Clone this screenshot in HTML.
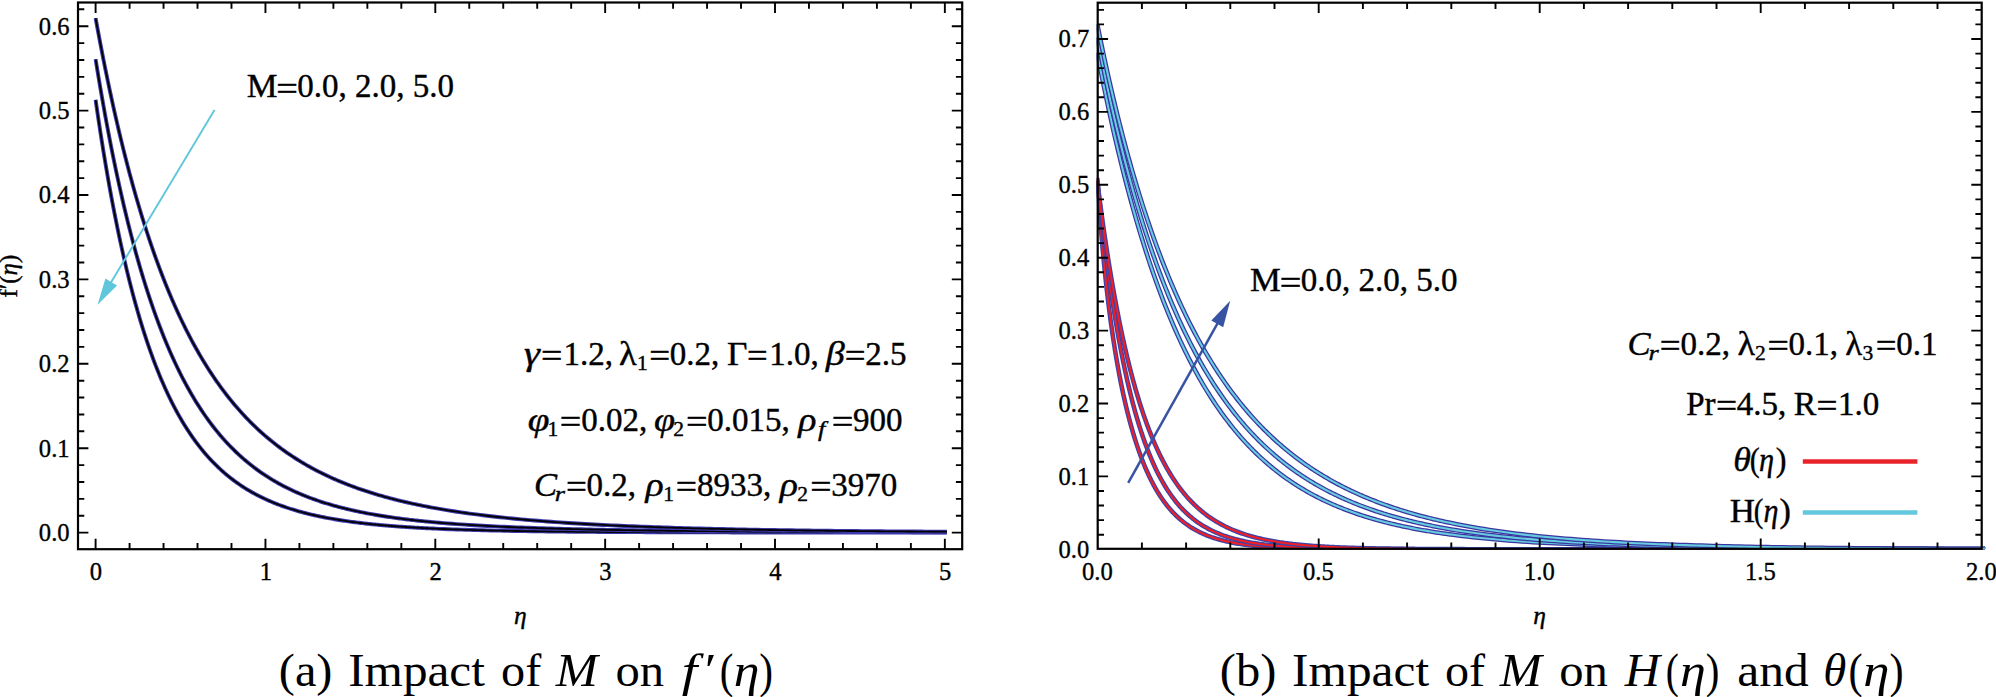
<!DOCTYPE html>
<html lang="en"><head><meta charset="utf-8"><title>Impact of M</title>
<style>
html,body{margin:0;padding:0;background:#fff;}
body{width:1996px;height:697px;overflow:hidden;position:relative;}
</style></head><body>
<svg width="1996" height="697" viewBox="0 0 1996 697" style="display:block;position:absolute;left:0;top:0">
<rect x="0" y="0" width="1996" height="697" fill="#ffffff"/>
<defs><clipPath id="cr"><rect x="1096.6" y="0" width="888.5" height="549.2"/></clipPath></defs>
<g fill="none" stroke-linecap="butt" stroke-linejoin="round">
<path d="M95.60 99.88 L97.15 110.61 L98.70 121.06 L100.25 131.24 L101.80 141.16 L103.36 150.83 L104.91 160.25 L106.46 169.42 L108.01 178.36 L109.56 187.07 L111.11 195.55 L112.66 203.82 L114.21 211.88 L115.76 219.73 L117.32 227.38 L118.87 234.83 L120.42 242.10 L121.97 249.18 L123.52 256.08 L125.07 262.80 L126.62 269.35 L128.17 275.73 L129.73 281.96 L131.28 288.02 L132.83 293.93 L134.38 299.69 L135.93 305.31 L137.48 310.78 L139.03 316.12 L140.58 321.32 L142.13 326.38 L143.69 331.32 L145.24 336.14 L146.79 340.84 L148.34 345.41 L149.89 349.87 L151.44 354.22 L152.99 358.46 L154.54 362.60 L156.09 366.63 L157.65 370.56 L159.20 374.39 L160.75 378.13 L162.30 381.77 L163.85 385.32 L165.40 388.79 L166.95 392.16 L168.50 395.46 L170.05 398.67 L171.61 401.80 L173.16 404.85 L174.71 407.83 L176.26 410.74 L177.81 413.57 L179.36 416.34 L180.91 419.03 L182.46 421.66 L184.02 424.22 L185.57 426.73 L187.12 429.17 L188.67 431.55 L190.22 433.87 L191.77 436.13 L193.32 438.34 L194.87 440.50 L196.42 442.60 L197.98 444.66 L199.53 446.66 L201.08 448.61 L202.63 450.52 L204.18 452.38 L205.73 454.19 L207.28 455.96 L208.83 457.69 L210.38 459.38 L211.94 461.03 L213.49 462.63 L215.04 464.20 L216.59 465.73 L218.14 467.22 L219.69 468.68 L221.24 470.10 L222.79 471.49 L224.34 472.85 L225.90 474.17 L227.45 475.47 L229.00 476.73 L230.55 477.96 L232.10 479.16 L233.65 480.33 L235.20 481.48 L236.75 482.60 L238.31 483.69 L239.86 484.76 L241.41 485.80 L242.96 486.82 L244.51 487.81 L246.06 488.78 L247.61 489.73 L249.16 490.66 L250.71 491.56 L252.27 492.44 L253.82 493.31 L255.37 494.15 L256.92 494.97 L258.47 495.78 L260.02 496.56 L261.57 497.33 L263.12 498.08 L264.67 498.81 L266.23 499.53 L267.78 500.23 L269.33 500.91 L270.88 501.58 L272.43 502.23 L273.98 502.87 L275.53 503.49 L277.08 504.10 L278.63 504.70 L280.19 505.28 L281.74 505.85 L283.29 506.40 L284.84 506.94 L286.39 507.48 L287.94 507.99 L289.49 508.50 L291.04 509.00 L292.59 509.48 L294.15 509.96 L295.70 510.42 L297.25 510.87 L298.80 511.32 L300.35 511.75 L301.90 512.17 L303.45 512.59 L305.00 512.99 L306.56 513.39 L308.11 513.78 L309.66 514.16 L311.21 514.53 L312.76 514.89 L314.31 515.25 L315.86 515.59 L317.41 515.93 L318.96 516.26 L320.52 516.59 L322.07 516.91 L323.62 517.22 L325.17 517.52 L326.72 517.82 L328.27 518.11 L329.82 518.40 L331.37 518.68 L332.92 518.95 L334.48 519.22 L336.03 519.48 L337.58 519.73 L339.13 519.99 L340.68 520.23 L342.23 520.47 L343.78 520.71 L345.33 520.94 L346.88 521.16 L348.44 521.38 L349.99 521.60 L351.54 521.81 L353.09 522.02 L354.64 522.22 L356.19 522.42 L357.74 522.61 L359.29 522.80 L360.85 522.99 L362.40 523.17 L363.95 523.35 L365.50 523.52 L367.05 523.69 L368.60 523.86 L370.15 524.03 L371.70 524.19 L373.25 524.35 L374.81 524.50 L376.36 524.65 L377.91 524.80 L379.46 524.95 L381.01 525.09 L382.56 525.23 L384.11 525.36 L385.66 525.50 L387.21 525.63 L388.77 525.76 L390.32 525.88 L391.87 526.01 L393.42 526.13 L394.97 526.25 L396.52 526.36 L398.07 526.48 L399.62 526.59 L401.17 526.70 L402.73 526.81 L404.28 526.91 L405.83 527.02 L407.38 527.12 L408.93 527.22 L410.48 527.31 L412.03 527.41 L413.58 527.50 L415.14 527.59 L416.69 527.68 L418.24 527.77 L419.79 527.86 L421.34 527.94 L422.89 528.03 L424.44 528.11 L425.99 528.19 L427.54 528.27 L429.10 528.34 L430.65 528.42 L432.20 528.49 L433.75 528.57 L435.30 528.64 L439.60 528.83 L443.90 529.01 L448.20 529.18 L452.50 529.34 L456.80 529.50 L461.09 529.64 L465.39 529.78 L469.69 529.91 L473.99 530.04 L478.29 530.16 L482.59 530.27 L486.89 530.38 L491.19 530.48 L495.49 530.58 L499.79 530.67 L504.08 530.76 L508.38 530.85 L512.68 530.93 L516.98 531.00 L521.28 531.07 L525.58 531.14 L529.88 531.21 L534.18 531.27 L538.48 531.33 L542.78 531.39 L547.08 531.44 L551.37 531.49 L555.67 531.54 L559.97 531.59 L564.27 531.64 L568.57 531.68 L572.87 531.72 L577.17 531.76 L581.47 531.80 L585.77 531.83 L590.07 531.86 L594.37 531.90 L598.66 531.93 L602.96 531.96 L607.26 531.98 L611.56 532.01 L615.86 532.04 L620.16 532.06 L624.46 532.09 L628.76 532.11 L633.06 532.13 L637.36 532.15 L641.65 532.17 L645.95 532.19 L650.25 532.21 L654.55 532.22 L658.85 532.24 L663.15 532.25 L667.45 532.27 L671.75 532.28 L676.05 532.30 L680.35 532.31 L684.65 532.32 L688.94 532.33 L693.24 532.35 L697.54 532.36 L701.84 532.37 L706.14 532.38 L710.44 532.39 L714.74 532.40 L719.04 532.40 L723.34 532.41 L727.64 532.42 L731.94 532.43 L736.23 532.44 L740.53 532.44 L744.83 532.45 L749.13 532.46 L753.43 532.46 L757.73 532.47 L762.03 532.47 L766.33 532.48 L770.63 532.48 L774.93 532.49 L779.22 532.49 L783.52 532.50 L787.82 532.50 L792.12 532.51 L796.42 532.51 L800.72 532.51 L805.02 532.52 L809.32 532.52 L813.62 532.52 L817.92 532.53 L822.22 532.53 L826.51 532.53 L830.81 532.54 L835.11 532.54 L839.41 532.54 L843.71 532.54 L848.01 532.55 L852.31 532.55 L856.61 532.55 L860.91 532.55 L865.21 532.55 L869.51 532.56 L873.80 532.56 L878.10 532.56 L882.40 532.56 L886.70 532.56 L891.00 532.56 L895.30 532.57 L899.60 532.57 L903.90 532.57 L908.20 532.57 L912.50 532.57 L916.79 532.57 L921.09 532.57 L925.39 532.58 L929.69 532.58 L933.99 532.58 L938.29 532.58 L942.59 532.58 L946.89 532.58" stroke="#3c3aac" stroke-width="3.9"/>
<path d="M95.60 99.88 L97.15 110.61 L98.70 121.06 L100.25 131.24 L101.80 141.16 L103.36 150.83 L104.91 160.25 L106.46 169.42 L108.01 178.36 L109.56 187.07 L111.11 195.55 L112.66 203.82 L114.21 211.88 L115.76 219.73 L117.32 227.38 L118.87 234.83 L120.42 242.10 L121.97 249.18 L123.52 256.08 L125.07 262.80 L126.62 269.35 L128.17 275.73 L129.73 281.96 L131.28 288.02 L132.83 293.93 L134.38 299.69 L135.93 305.31 L137.48 310.78 L139.03 316.12 L140.58 321.32 L142.13 326.38 L143.69 331.32 L145.24 336.14 L146.79 340.84 L148.34 345.41 L149.89 349.87 L151.44 354.22 L152.99 358.46 L154.54 362.60 L156.09 366.63 L157.65 370.56 L159.20 374.39 L160.75 378.13 L162.30 381.77 L163.85 385.32 L165.40 388.79 L166.95 392.16 L168.50 395.46 L170.05 398.67 L171.61 401.80 L173.16 404.85 L174.71 407.83 L176.26 410.74 L177.81 413.57 L179.36 416.34 L180.91 419.03 L182.46 421.66 L184.02 424.22 L185.57 426.73 L187.12 429.17 L188.67 431.55 L190.22 433.87 L191.77 436.13 L193.32 438.34 L194.87 440.50 L196.42 442.60 L197.98 444.66 L199.53 446.66 L201.08 448.61 L202.63 450.52 L204.18 452.38 L205.73 454.19 L207.28 455.96 L208.83 457.69 L210.38 459.38 L211.94 461.03 L213.49 462.63 L215.04 464.20 L216.59 465.73 L218.14 467.22 L219.69 468.68 L221.24 470.10 L222.79 471.49 L224.34 472.85 L225.90 474.17 L227.45 475.47 L229.00 476.73 L230.55 477.96 L232.10 479.16 L233.65 480.33 L235.20 481.48 L236.75 482.60 L238.31 483.69 L239.86 484.76 L241.41 485.80 L242.96 486.82 L244.51 487.81 L246.06 488.78 L247.61 489.73 L249.16 490.66 L250.71 491.56 L252.27 492.44 L253.82 493.31 L255.37 494.15 L256.92 494.97 L258.47 495.78 L260.02 496.56 L261.57 497.33 L263.12 498.08 L264.67 498.81 L266.23 499.53 L267.78 500.23 L269.33 500.91 L270.88 501.58 L272.43 502.23 L273.98 502.87 L275.53 503.49 L277.08 504.10 L278.63 504.70 L280.19 505.28 L281.74 505.85 L283.29 506.40 L284.84 506.94 L286.39 507.48 L287.94 507.99 L289.49 508.50 L291.04 509.00 L292.59 509.48 L294.15 509.96 L295.70 510.42 L297.25 510.87 L298.80 511.32 L300.35 511.75 L301.90 512.17 L303.45 512.59 L305.00 512.99 L306.56 513.39 L308.11 513.78 L309.66 514.16 L311.21 514.53 L312.76 514.89 L314.31 515.25 L315.86 515.59 L317.41 515.93 L318.96 516.26 L320.52 516.59 L322.07 516.91 L323.62 517.22 L325.17 517.52 L326.72 517.82 L328.27 518.11 L329.82 518.40 L331.37 518.68 L332.92 518.95 L334.48 519.22 L336.03 519.48 L337.58 519.73 L339.13 519.99 L340.68 520.23 L342.23 520.47 L343.78 520.71 L345.33 520.94 L346.88 521.16 L348.44 521.38 L349.99 521.60 L351.54 521.81 L353.09 522.02 L354.64 522.22 L356.19 522.42 L357.74 522.61 L359.29 522.80 L360.85 522.99 L362.40 523.17 L363.95 523.35 L365.50 523.52 L367.05 523.69 L368.60 523.86 L370.15 524.03 L371.70 524.19 L373.25 524.35 L374.81 524.50 L376.36 524.65 L377.91 524.80 L379.46 524.95 L381.01 525.09 L382.56 525.23 L384.11 525.36 L385.66 525.50 L387.21 525.63 L388.77 525.76 L390.32 525.88 L391.87 526.01 L393.42 526.13 L394.97 526.25 L396.52 526.36 L398.07 526.48 L399.62 526.59 L401.17 526.70 L402.73 526.81 L404.28 526.91 L405.83 527.02 L407.38 527.12 L408.93 527.22 L410.48 527.31 L412.03 527.41 L413.58 527.50 L415.14 527.59 L416.69 527.68 L418.24 527.77 L419.79 527.86 L421.34 527.94 L422.89 528.03 L424.44 528.11 L425.99 528.19 L427.54 528.27 L429.10 528.34 L430.65 528.42 L432.20 528.49 L433.75 528.57 L435.30 528.64 L439.60 528.83 L443.90 529.01 L448.20 529.18 L452.50 529.34 L456.80 529.50 L461.09 529.64 L465.39 529.78 L469.69 529.91 L473.99 530.04 L478.29 530.16 L482.59 530.27 L486.89 530.38 L491.19 530.48 L495.49 530.58 L499.79 530.67 L504.08 530.76 L508.38 530.85 L512.68 530.93 L516.98 531.00 L521.28 531.07 L525.58 531.14 L529.88 531.21 L534.18 531.27 L538.48 531.33 L542.78 531.39 L547.08 531.44 L551.37 531.49 L555.67 531.54 L559.97 531.59 L564.27 531.64 L568.57 531.68 L572.87 531.72 L577.17 531.76 L581.47 531.80 L585.77 531.83 L590.07 531.86 L594.37 531.90 L598.66 531.93 L602.96 531.96 L607.26 531.98 L611.56 532.01 L615.86 532.04 L620.16 532.06 L624.46 532.09 L628.76 532.11 L633.06 532.13 L637.36 532.15 L641.65 532.17 L645.95 532.19 L650.25 532.21 L654.55 532.22 L658.85 532.24 L663.15 532.25 L667.45 532.27 L671.75 532.28 L676.05 532.30 L680.35 532.31 L684.65 532.32 L688.94 532.33 L693.24 532.35 L697.54 532.36 L701.84 532.37 L706.14 532.38 L710.44 532.39 L714.74 532.40 L719.04 532.40 L723.34 532.41 L727.64 532.42 L731.94 532.43 L736.23 532.44 L740.53 532.44 L744.83 532.45 L749.13 532.46 L753.43 532.46 L757.73 532.47 L762.03 532.47 L766.33 532.48 L770.63 532.48 L774.93 532.49 L779.22 532.49 L783.52 532.50 L787.82 532.50 L792.12 532.51 L796.42 532.51 L800.72 532.51 L805.02 532.52 L809.32 532.52 L813.62 532.52 L817.92 532.53 L822.22 532.53 L826.51 532.53 L830.81 532.54 L835.11 532.54 L839.41 532.54 L843.71 532.54 L848.01 532.55 L852.31 532.55 L856.61 532.55 L860.91 532.55 L865.21 532.55 L869.51 532.56 L873.80 532.56 L878.10 532.56 L882.40 532.56 L886.70 532.56 L891.00 532.56 L895.30 532.57 L899.60 532.57 L903.90 532.57 L908.20 532.57 L912.50 532.57 L916.79 532.57 L921.09 532.57 L925.39 532.58 L929.69 532.58 L933.99 532.58 L938.29 532.58 L942.59 532.58 L946.89 532.58" stroke="#000000" stroke-width="1.8"/>
<path d="M95.60 59.28 L97.15 68.86 L98.70 78.23 L100.25 87.41 L101.80 96.40 L103.36 105.20 L104.91 113.81 L106.46 122.25 L108.01 130.51 L109.56 138.59 L111.11 146.51 L112.66 154.26 L114.21 161.85 L115.76 169.29 L117.32 176.56 L118.87 183.69 L120.42 190.67 L121.97 197.50 L123.52 204.19 L125.07 210.74 L126.62 217.16 L128.17 223.44 L129.73 229.59 L131.28 235.62 L132.83 241.51 L134.38 247.29 L135.93 252.95 L137.48 258.49 L139.03 263.91 L140.58 269.22 L142.13 274.43 L143.69 279.52 L145.24 284.51 L146.79 289.40 L148.34 294.18 L149.89 298.87 L151.44 303.46 L152.99 307.95 L154.54 312.35 L156.09 316.67 L157.65 320.89 L159.20 325.02 L160.75 329.07 L162.30 333.04 L163.85 336.93 L165.40 340.73 L166.95 344.46 L168.50 348.11 L170.05 351.69 L171.61 355.19 L173.16 358.62 L174.71 361.98 L176.26 365.27 L177.81 368.50 L179.36 371.66 L180.91 374.75 L182.46 377.78 L184.02 380.75 L185.57 383.66 L187.12 386.51 L188.67 389.30 L190.22 392.03 L191.77 394.71 L193.32 397.34 L194.87 399.91 L196.42 402.43 L197.98 404.89 L199.53 407.31 L201.08 409.68 L202.63 412.00 L204.18 414.27 L205.73 416.50 L207.28 418.68 L208.83 420.82 L210.38 422.92 L211.94 424.97 L213.49 426.98 L215.04 428.95 L216.59 430.89 L218.14 432.78 L219.69 434.63 L221.24 436.45 L222.79 438.23 L224.34 439.98 L225.90 441.69 L227.45 443.36 L229.00 445.00 L230.55 446.61 L232.10 448.19 L233.65 449.74 L235.20 451.25 L236.75 452.74 L238.31 454.19 L239.86 455.62 L241.41 457.02 L242.96 458.39 L244.51 459.73 L246.06 461.05 L247.61 462.34 L249.16 463.60 L250.71 464.84 L252.27 466.06 L253.82 467.25 L255.37 468.42 L256.92 469.56 L258.47 470.69 L260.02 471.79 L261.57 472.87 L263.12 473.92 L264.67 474.96 L266.23 475.98 L267.78 476.98 L269.33 477.95 L270.88 478.91 L272.43 479.85 L273.98 480.77 L275.53 481.68 L277.08 482.56 L278.63 483.43 L280.19 484.28 L281.74 485.12 L283.29 485.94 L284.84 486.74 L286.39 487.53 L287.94 488.30 L289.49 489.06 L291.04 489.81 L292.59 490.54 L294.15 491.25 L295.70 491.95 L297.25 492.64 L298.80 493.32 L300.35 493.98 L301.90 494.63 L303.45 495.27 L305.00 495.89 L306.56 496.51 L308.11 497.11 L309.66 497.70 L311.21 498.28 L312.76 498.84 L314.31 499.40 L315.86 499.95 L317.41 500.49 L318.96 501.01 L320.52 501.53 L322.07 502.04 L323.62 502.54 L325.17 503.02 L326.72 503.50 L328.27 503.97 L329.82 504.44 L331.37 504.89 L332.92 505.33 L334.48 505.77 L336.03 506.20 L337.58 506.62 L339.13 507.03 L340.68 507.44 L342.23 507.84 L343.78 508.23 L345.33 508.61 L346.88 508.99 L348.44 509.36 L349.99 509.72 L351.54 510.08 L353.09 510.43 L354.64 510.77 L356.19 511.11 L357.74 511.44 L359.29 511.77 L360.85 512.09 L362.40 512.40 L363.95 512.71 L365.50 513.01 L367.05 513.31 L368.60 513.60 L370.15 513.89 L371.70 514.17 L373.25 514.45 L374.81 514.72 L376.36 514.98 L377.91 515.25 L379.46 515.51 L381.01 515.76 L382.56 516.01 L384.11 516.25 L385.66 516.49 L387.21 516.73 L388.77 516.96 L390.32 517.19 L391.87 517.41 L393.42 517.63 L394.97 517.85 L396.52 518.06 L398.07 518.27 L399.62 518.48 L401.17 518.68 L402.73 518.88 L404.28 519.07 L405.83 519.27 L407.38 519.45 L408.93 519.64 L410.48 519.82 L412.03 520.00 L413.58 520.18 L415.14 520.35 L416.69 520.52 L418.24 520.69 L419.79 520.85 L421.34 521.02 L422.89 521.18 L424.44 521.33 L425.99 521.49 L427.54 521.64 L429.10 521.79 L430.65 521.93 L432.20 522.08 L433.75 522.22 L435.30 522.36 L439.60 522.74 L443.90 523.10 L448.20 523.44 L452.50 523.77 L456.80 524.08 L461.09 524.38 L465.39 524.67 L469.69 524.95 L473.99 525.21 L478.29 525.47 L482.59 525.71 L486.89 525.94 L491.19 526.17 L495.49 526.38 L499.79 526.59 L504.08 526.79 L508.38 526.98 L512.68 527.16 L516.98 527.33 L521.28 527.50 L525.58 527.66 L529.88 527.82 L534.18 527.97 L538.48 528.12 L542.78 528.26 L547.08 528.39 L551.37 528.52 L555.67 528.64 L559.97 528.76 L564.27 528.88 L568.57 528.99 L572.87 529.10 L577.17 529.20 L581.47 529.30 L585.77 529.40 L590.07 529.49 L594.37 529.58 L598.66 529.67 L602.96 529.76 L607.26 529.84 L611.56 529.92 L615.86 529.99 L620.16 530.07 L624.46 530.14 L628.76 530.21 L633.06 530.27 L637.36 530.34 L641.65 530.40 L645.95 530.46 L650.25 530.52 L654.55 530.58 L658.85 530.63 L663.15 530.69 L667.45 530.74 L671.75 530.79 L676.05 530.84 L680.35 530.89 L684.65 530.93 L688.94 530.98 L693.24 531.02 L697.54 531.06 L701.84 531.10 L706.14 531.14 L710.44 531.18 L714.74 531.22 L719.04 531.26 L723.34 531.29 L727.64 531.33 L731.94 531.36 L736.23 531.39 L740.53 531.42 L744.83 531.45 L749.13 531.48 L753.43 531.51 L757.73 531.54 L762.03 531.57 L766.33 531.59 L770.63 531.62 L774.93 531.64 L779.22 531.67 L783.52 531.69 L787.82 531.72 L792.12 531.74 L796.42 531.76 L800.72 531.78 L805.02 531.80 L809.32 531.82 L813.62 531.84 L817.92 531.86 L822.22 531.88 L826.51 531.90 L830.81 531.92 L835.11 531.93 L839.41 531.95 L843.71 531.97 L848.01 531.98 L852.31 532.00 L856.61 532.01 L860.91 532.03 L865.21 532.04 L869.51 532.06 L873.80 532.07 L878.10 532.08 L882.40 532.10 L886.70 532.11 L891.00 532.12 L895.30 532.13 L899.60 532.14 L903.90 532.16 L908.20 532.17 L912.50 532.18 L916.79 532.19 L921.09 532.20 L925.39 532.21 L929.69 532.22 L933.99 532.23 L938.29 532.24 L942.59 532.25 L946.89 532.25" stroke="#3c3aac" stroke-width="3.9"/>
<path d="M95.60 59.28 L97.15 68.86 L98.70 78.23 L100.25 87.41 L101.80 96.40 L103.36 105.20 L104.91 113.81 L106.46 122.25 L108.01 130.51 L109.56 138.59 L111.11 146.51 L112.66 154.26 L114.21 161.85 L115.76 169.29 L117.32 176.56 L118.87 183.69 L120.42 190.67 L121.97 197.50 L123.52 204.19 L125.07 210.74 L126.62 217.16 L128.17 223.44 L129.73 229.59 L131.28 235.62 L132.83 241.51 L134.38 247.29 L135.93 252.95 L137.48 258.49 L139.03 263.91 L140.58 269.22 L142.13 274.43 L143.69 279.52 L145.24 284.51 L146.79 289.40 L148.34 294.18 L149.89 298.87 L151.44 303.46 L152.99 307.95 L154.54 312.35 L156.09 316.67 L157.65 320.89 L159.20 325.02 L160.75 329.07 L162.30 333.04 L163.85 336.93 L165.40 340.73 L166.95 344.46 L168.50 348.11 L170.05 351.69 L171.61 355.19 L173.16 358.62 L174.71 361.98 L176.26 365.27 L177.81 368.50 L179.36 371.66 L180.91 374.75 L182.46 377.78 L184.02 380.75 L185.57 383.66 L187.12 386.51 L188.67 389.30 L190.22 392.03 L191.77 394.71 L193.32 397.34 L194.87 399.91 L196.42 402.43 L197.98 404.89 L199.53 407.31 L201.08 409.68 L202.63 412.00 L204.18 414.27 L205.73 416.50 L207.28 418.68 L208.83 420.82 L210.38 422.92 L211.94 424.97 L213.49 426.98 L215.04 428.95 L216.59 430.89 L218.14 432.78 L219.69 434.63 L221.24 436.45 L222.79 438.23 L224.34 439.98 L225.90 441.69 L227.45 443.36 L229.00 445.00 L230.55 446.61 L232.10 448.19 L233.65 449.74 L235.20 451.25 L236.75 452.74 L238.31 454.19 L239.86 455.62 L241.41 457.02 L242.96 458.39 L244.51 459.73 L246.06 461.05 L247.61 462.34 L249.16 463.60 L250.71 464.84 L252.27 466.06 L253.82 467.25 L255.37 468.42 L256.92 469.56 L258.47 470.69 L260.02 471.79 L261.57 472.87 L263.12 473.92 L264.67 474.96 L266.23 475.98 L267.78 476.98 L269.33 477.95 L270.88 478.91 L272.43 479.85 L273.98 480.77 L275.53 481.68 L277.08 482.56 L278.63 483.43 L280.19 484.28 L281.74 485.12 L283.29 485.94 L284.84 486.74 L286.39 487.53 L287.94 488.30 L289.49 489.06 L291.04 489.81 L292.59 490.54 L294.15 491.25 L295.70 491.95 L297.25 492.64 L298.80 493.32 L300.35 493.98 L301.90 494.63 L303.45 495.27 L305.00 495.89 L306.56 496.51 L308.11 497.11 L309.66 497.70 L311.21 498.28 L312.76 498.84 L314.31 499.40 L315.86 499.95 L317.41 500.49 L318.96 501.01 L320.52 501.53 L322.07 502.04 L323.62 502.54 L325.17 503.02 L326.72 503.50 L328.27 503.97 L329.82 504.44 L331.37 504.89 L332.92 505.33 L334.48 505.77 L336.03 506.20 L337.58 506.62 L339.13 507.03 L340.68 507.44 L342.23 507.84 L343.78 508.23 L345.33 508.61 L346.88 508.99 L348.44 509.36 L349.99 509.72 L351.54 510.08 L353.09 510.43 L354.64 510.77 L356.19 511.11 L357.74 511.44 L359.29 511.77 L360.85 512.09 L362.40 512.40 L363.95 512.71 L365.50 513.01 L367.05 513.31 L368.60 513.60 L370.15 513.89 L371.70 514.17 L373.25 514.45 L374.81 514.72 L376.36 514.98 L377.91 515.25 L379.46 515.51 L381.01 515.76 L382.56 516.01 L384.11 516.25 L385.66 516.49 L387.21 516.73 L388.77 516.96 L390.32 517.19 L391.87 517.41 L393.42 517.63 L394.97 517.85 L396.52 518.06 L398.07 518.27 L399.62 518.48 L401.17 518.68 L402.73 518.88 L404.28 519.07 L405.83 519.27 L407.38 519.45 L408.93 519.64 L410.48 519.82 L412.03 520.00 L413.58 520.18 L415.14 520.35 L416.69 520.52 L418.24 520.69 L419.79 520.85 L421.34 521.02 L422.89 521.18 L424.44 521.33 L425.99 521.49 L427.54 521.64 L429.10 521.79 L430.65 521.93 L432.20 522.08 L433.75 522.22 L435.30 522.36 L439.60 522.74 L443.90 523.10 L448.20 523.44 L452.50 523.77 L456.80 524.08 L461.09 524.38 L465.39 524.67 L469.69 524.95 L473.99 525.21 L478.29 525.47 L482.59 525.71 L486.89 525.94 L491.19 526.17 L495.49 526.38 L499.79 526.59 L504.08 526.79 L508.38 526.98 L512.68 527.16 L516.98 527.33 L521.28 527.50 L525.58 527.66 L529.88 527.82 L534.18 527.97 L538.48 528.12 L542.78 528.26 L547.08 528.39 L551.37 528.52 L555.67 528.64 L559.97 528.76 L564.27 528.88 L568.57 528.99 L572.87 529.10 L577.17 529.20 L581.47 529.30 L585.77 529.40 L590.07 529.49 L594.37 529.58 L598.66 529.67 L602.96 529.76 L607.26 529.84 L611.56 529.92 L615.86 529.99 L620.16 530.07 L624.46 530.14 L628.76 530.21 L633.06 530.27 L637.36 530.34 L641.65 530.40 L645.95 530.46 L650.25 530.52 L654.55 530.58 L658.85 530.63 L663.15 530.69 L667.45 530.74 L671.75 530.79 L676.05 530.84 L680.35 530.89 L684.65 530.93 L688.94 530.98 L693.24 531.02 L697.54 531.06 L701.84 531.10 L706.14 531.14 L710.44 531.18 L714.74 531.22 L719.04 531.26 L723.34 531.29 L727.64 531.33 L731.94 531.36 L736.23 531.39 L740.53 531.42 L744.83 531.45 L749.13 531.48 L753.43 531.51 L757.73 531.54 L762.03 531.57 L766.33 531.59 L770.63 531.62 L774.93 531.64 L779.22 531.67 L783.52 531.69 L787.82 531.72 L792.12 531.74 L796.42 531.76 L800.72 531.78 L805.02 531.80 L809.32 531.82 L813.62 531.84 L817.92 531.86 L822.22 531.88 L826.51 531.90 L830.81 531.92 L835.11 531.93 L839.41 531.95 L843.71 531.97 L848.01 531.98 L852.31 532.00 L856.61 532.01 L860.91 532.03 L865.21 532.04 L869.51 532.06 L873.80 532.07 L878.10 532.08 L882.40 532.10 L886.70 532.11 L891.00 532.12 L895.30 532.13 L899.60 532.14 L903.90 532.16 L908.20 532.17 L912.50 532.18 L916.79 532.19 L921.09 532.20 L925.39 532.21 L929.69 532.22 L933.99 532.23 L938.29 532.24 L942.59 532.25 L946.89 532.25" stroke="#000000" stroke-width="1.8"/>
<path d="M95.60 18.10 L97.15 26.59 L98.70 34.93 L100.25 43.12 L101.80 51.16 L103.36 59.06 L104.91 66.82 L106.46 74.44 L108.01 81.93 L109.56 89.29 L111.11 96.51 L112.66 103.61 L114.21 110.58 L115.76 117.43 L117.32 124.15 L118.87 130.76 L120.42 137.25 L121.97 143.63 L123.52 149.90 L125.07 156.05 L126.62 162.10 L128.17 168.04 L129.73 173.88 L131.28 179.61 L132.83 185.25 L134.38 190.79 L135.93 196.23 L137.48 201.57 L139.03 206.82 L140.58 211.99 L142.13 217.06 L143.69 222.04 L145.24 226.94 L146.79 231.75 L148.34 236.48 L149.89 241.13 L151.44 245.69 L152.99 250.18 L154.54 254.59 L156.09 258.93 L157.65 263.19 L159.20 267.38 L160.75 271.49 L162.30 275.54 L163.85 279.51 L165.40 283.42 L166.95 287.26 L168.50 291.04 L170.05 294.75 L171.61 298.40 L173.16 301.99 L174.71 305.51 L176.26 308.98 L177.81 312.38 L179.36 315.73 L180.91 319.03 L182.46 322.27 L184.02 325.45 L185.57 328.58 L187.12 331.65 L188.67 334.68 L190.22 337.65 L191.77 340.58 L193.32 343.45 L194.87 346.28 L196.42 349.06 L197.98 351.80 L199.53 354.49 L201.08 357.13 L202.63 359.73 L204.18 362.29 L205.73 364.80 L207.28 367.28 L208.83 369.71 L210.38 372.10 L211.94 374.45 L213.49 376.77 L215.04 379.05 L216.59 381.29 L218.14 383.49 L219.69 385.65 L221.24 387.79 L222.79 389.88 L224.34 391.94 L225.90 393.97 L227.45 395.97 L229.00 397.93 L230.55 399.86 L232.10 401.77 L233.65 403.64 L235.20 405.47 L236.75 407.29 L238.31 409.07 L239.86 410.82 L241.41 412.54 L242.96 414.24 L244.51 415.91 L246.06 417.55 L247.61 419.17 L249.16 420.76 L250.71 422.33 L252.27 423.87 L253.82 425.39 L255.37 426.88 L256.92 428.35 L258.47 429.80 L260.02 431.22 L261.57 432.62 L263.12 434.00 L264.67 435.36 L266.23 436.69 L267.78 438.01 L269.33 439.31 L270.88 440.58 L272.43 441.84 L273.98 443.07 L275.53 444.29 L277.08 445.49 L278.63 446.67 L280.19 447.83 L281.74 448.97 L283.29 450.10 L284.84 451.21 L286.39 452.30 L287.94 453.37 L289.49 454.43 L291.04 455.47 L292.59 456.50 L294.15 457.51 L295.70 458.51 L297.25 459.49 L298.80 460.45 L300.35 461.41 L301.90 462.34 L303.45 463.27 L305.00 464.18 L306.56 465.07 L308.11 465.95 L309.66 466.82 L311.21 467.68 L312.76 468.52 L314.31 469.36 L315.86 470.17 L317.41 470.98 L318.96 471.78 L320.52 472.56 L322.07 473.33 L323.62 474.09 L325.17 474.84 L326.72 475.58 L328.27 476.31 L329.82 477.02 L331.37 477.73 L332.92 478.43 L334.48 479.11 L336.03 479.79 L337.58 480.45 L339.13 481.11 L340.68 481.76 L342.23 482.40 L343.78 483.03 L345.33 483.65 L346.88 484.26 L348.44 484.86 L349.99 485.45 L351.54 486.04 L353.09 486.62 L354.64 487.19 L356.19 487.75 L357.74 488.30 L359.29 488.85 L360.85 489.38 L362.40 489.91 L363.95 490.44 L365.50 490.95 L367.05 491.46 L368.60 491.96 L370.15 492.46 L371.70 492.94 L373.25 493.42 L374.81 493.90 L376.36 494.37 L377.91 494.83 L379.46 495.28 L381.01 495.73 L382.56 496.17 L384.11 496.61 L385.66 497.04 L387.21 497.46 L388.77 497.88 L390.32 498.30 L391.87 498.70 L393.42 499.11 L394.97 499.50 L396.52 499.89 L398.07 500.28 L399.62 500.66 L401.17 501.04 L402.73 501.41 L404.28 501.77 L405.83 502.13 L407.38 502.49 L408.93 502.84 L410.48 503.19 L412.03 503.53 L413.58 503.87 L415.14 504.20 L416.69 504.53 L418.24 504.86 L419.79 505.18 L421.34 505.49 L422.89 505.81 L424.44 506.11 L425.99 506.42 L427.54 506.72 L429.10 507.01 L430.65 507.31 L432.20 507.60 L433.75 507.88 L435.30 508.16 L439.60 508.92 L443.90 509.66 L448.20 510.37 L452.50 511.05 L456.80 511.71 L461.09 512.35 L465.39 512.97 L469.69 513.56 L473.99 514.14 L478.29 514.69 L482.59 515.23 L486.89 515.75 L491.19 516.25 L495.49 516.74 L499.79 517.21 L504.08 517.67 L508.38 518.11 L512.68 518.53 L516.98 518.94 L521.28 519.34 L525.58 519.73 L529.88 520.10 L534.18 520.46 L538.48 520.81 L542.78 521.15 L547.08 521.48 L551.37 521.80 L555.67 522.11 L559.97 522.41 L564.27 522.70 L568.57 522.98 L572.87 523.25 L577.17 523.52 L581.47 523.77 L585.77 524.02 L590.07 524.26 L594.37 524.49 L598.66 524.72 L602.96 524.94 L607.26 525.15 L611.56 525.36 L615.86 525.56 L620.16 525.76 L624.46 525.95 L628.76 526.13 L633.06 526.31 L637.36 526.48 L641.65 526.65 L645.95 526.81 L650.25 526.97 L654.55 527.13 L658.85 527.27 L663.15 527.42 L667.45 527.56 L671.75 527.70 L676.05 527.83 L680.35 527.96 L684.65 528.09 L688.94 528.21 L693.24 528.33 L697.54 528.44 L701.84 528.55 L706.14 528.66 L710.44 528.77 L714.74 528.87 L719.04 528.97 L723.34 529.07 L727.64 529.16 L731.94 529.26 L736.23 529.35 L740.53 529.43 L744.83 529.52 L749.13 529.60 L753.43 529.68 L757.73 529.76 L762.03 529.83 L766.33 529.91 L770.63 529.98 L774.93 530.05 L779.22 530.12 L783.52 530.18 L787.82 530.25 L792.12 530.31 L796.42 530.37 L800.72 530.43 L805.02 530.48 L809.32 530.54 L813.62 530.60 L817.92 530.65 L822.22 530.70 L826.51 530.75 L830.81 530.80 L835.11 530.85 L839.41 530.89 L843.71 530.94 L848.01 530.98 L852.31 531.02 L856.61 531.06 L860.91 531.10 L865.21 531.14 L869.51 531.18 L873.80 531.22 L878.10 531.26 L882.40 531.29 L886.70 531.33 L891.00 531.36 L895.30 531.39 L899.60 531.42 L903.90 531.45 L908.20 531.48 L912.50 531.51 L916.79 531.54 L921.09 531.57 L925.39 531.60 L929.69 531.62 L933.99 531.65 L938.29 531.67 L942.59 531.70 L946.89 531.72" stroke="#3c3aac" stroke-width="3.9"/>
<path d="M95.60 18.10 L97.15 26.59 L98.70 34.93 L100.25 43.12 L101.80 51.16 L103.36 59.06 L104.91 66.82 L106.46 74.44 L108.01 81.93 L109.56 89.29 L111.11 96.51 L112.66 103.61 L114.21 110.58 L115.76 117.43 L117.32 124.15 L118.87 130.76 L120.42 137.25 L121.97 143.63 L123.52 149.90 L125.07 156.05 L126.62 162.10 L128.17 168.04 L129.73 173.88 L131.28 179.61 L132.83 185.25 L134.38 190.79 L135.93 196.23 L137.48 201.57 L139.03 206.82 L140.58 211.99 L142.13 217.06 L143.69 222.04 L145.24 226.94 L146.79 231.75 L148.34 236.48 L149.89 241.13 L151.44 245.69 L152.99 250.18 L154.54 254.59 L156.09 258.93 L157.65 263.19 L159.20 267.38 L160.75 271.49 L162.30 275.54 L163.85 279.51 L165.40 283.42 L166.95 287.26 L168.50 291.04 L170.05 294.75 L171.61 298.40 L173.16 301.99 L174.71 305.51 L176.26 308.98 L177.81 312.38 L179.36 315.73 L180.91 319.03 L182.46 322.27 L184.02 325.45 L185.57 328.58 L187.12 331.65 L188.67 334.68 L190.22 337.65 L191.77 340.58 L193.32 343.45 L194.87 346.28 L196.42 349.06 L197.98 351.80 L199.53 354.49 L201.08 357.13 L202.63 359.73 L204.18 362.29 L205.73 364.80 L207.28 367.28 L208.83 369.71 L210.38 372.10 L211.94 374.45 L213.49 376.77 L215.04 379.05 L216.59 381.29 L218.14 383.49 L219.69 385.65 L221.24 387.79 L222.79 389.88 L224.34 391.94 L225.90 393.97 L227.45 395.97 L229.00 397.93 L230.55 399.86 L232.10 401.77 L233.65 403.64 L235.20 405.47 L236.75 407.29 L238.31 409.07 L239.86 410.82 L241.41 412.54 L242.96 414.24 L244.51 415.91 L246.06 417.55 L247.61 419.17 L249.16 420.76 L250.71 422.33 L252.27 423.87 L253.82 425.39 L255.37 426.88 L256.92 428.35 L258.47 429.80 L260.02 431.22 L261.57 432.62 L263.12 434.00 L264.67 435.36 L266.23 436.69 L267.78 438.01 L269.33 439.31 L270.88 440.58 L272.43 441.84 L273.98 443.07 L275.53 444.29 L277.08 445.49 L278.63 446.67 L280.19 447.83 L281.74 448.97 L283.29 450.10 L284.84 451.21 L286.39 452.30 L287.94 453.37 L289.49 454.43 L291.04 455.47 L292.59 456.50 L294.15 457.51 L295.70 458.51 L297.25 459.49 L298.80 460.45 L300.35 461.41 L301.90 462.34 L303.45 463.27 L305.00 464.18 L306.56 465.07 L308.11 465.95 L309.66 466.82 L311.21 467.68 L312.76 468.52 L314.31 469.36 L315.86 470.17 L317.41 470.98 L318.96 471.78 L320.52 472.56 L322.07 473.33 L323.62 474.09 L325.17 474.84 L326.72 475.58 L328.27 476.31 L329.82 477.02 L331.37 477.73 L332.92 478.43 L334.48 479.11 L336.03 479.79 L337.58 480.45 L339.13 481.11 L340.68 481.76 L342.23 482.40 L343.78 483.03 L345.33 483.65 L346.88 484.26 L348.44 484.86 L349.99 485.45 L351.54 486.04 L353.09 486.62 L354.64 487.19 L356.19 487.75 L357.74 488.30 L359.29 488.85 L360.85 489.38 L362.40 489.91 L363.95 490.44 L365.50 490.95 L367.05 491.46 L368.60 491.96 L370.15 492.46 L371.70 492.94 L373.25 493.42 L374.81 493.90 L376.36 494.37 L377.91 494.83 L379.46 495.28 L381.01 495.73 L382.56 496.17 L384.11 496.61 L385.66 497.04 L387.21 497.46 L388.77 497.88 L390.32 498.30 L391.87 498.70 L393.42 499.11 L394.97 499.50 L396.52 499.89 L398.07 500.28 L399.62 500.66 L401.17 501.04 L402.73 501.41 L404.28 501.77 L405.83 502.13 L407.38 502.49 L408.93 502.84 L410.48 503.19 L412.03 503.53 L413.58 503.87 L415.14 504.20 L416.69 504.53 L418.24 504.86 L419.79 505.18 L421.34 505.49 L422.89 505.81 L424.44 506.11 L425.99 506.42 L427.54 506.72 L429.10 507.01 L430.65 507.31 L432.20 507.60 L433.75 507.88 L435.30 508.16 L439.60 508.92 L443.90 509.66 L448.20 510.37 L452.50 511.05 L456.80 511.71 L461.09 512.35 L465.39 512.97 L469.69 513.56 L473.99 514.14 L478.29 514.69 L482.59 515.23 L486.89 515.75 L491.19 516.25 L495.49 516.74 L499.79 517.21 L504.08 517.67 L508.38 518.11 L512.68 518.53 L516.98 518.94 L521.28 519.34 L525.58 519.73 L529.88 520.10 L534.18 520.46 L538.48 520.81 L542.78 521.15 L547.08 521.48 L551.37 521.80 L555.67 522.11 L559.97 522.41 L564.27 522.70 L568.57 522.98 L572.87 523.25 L577.17 523.52 L581.47 523.77 L585.77 524.02 L590.07 524.26 L594.37 524.49 L598.66 524.72 L602.96 524.94 L607.26 525.15 L611.56 525.36 L615.86 525.56 L620.16 525.76 L624.46 525.95 L628.76 526.13 L633.06 526.31 L637.36 526.48 L641.65 526.65 L645.95 526.81 L650.25 526.97 L654.55 527.13 L658.85 527.27 L663.15 527.42 L667.45 527.56 L671.75 527.70 L676.05 527.83 L680.35 527.96 L684.65 528.09 L688.94 528.21 L693.24 528.33 L697.54 528.44 L701.84 528.55 L706.14 528.66 L710.44 528.77 L714.74 528.87 L719.04 528.97 L723.34 529.07 L727.64 529.16 L731.94 529.26 L736.23 529.35 L740.53 529.43 L744.83 529.52 L749.13 529.60 L753.43 529.68 L757.73 529.76 L762.03 529.83 L766.33 529.91 L770.63 529.98 L774.93 530.05 L779.22 530.12 L783.52 530.18 L787.82 530.25 L792.12 530.31 L796.42 530.37 L800.72 530.43 L805.02 530.48 L809.32 530.54 L813.62 530.60 L817.92 530.65 L822.22 530.70 L826.51 530.75 L830.81 530.80 L835.11 530.85 L839.41 530.89 L843.71 530.94 L848.01 530.98 L852.31 531.02 L856.61 531.06 L860.91 531.10 L865.21 531.14 L869.51 531.18 L873.80 531.22 L878.10 531.26 L882.40 531.29 L886.70 531.33 L891.00 531.36 L895.30 531.39 L899.60 531.42 L903.90 531.45 L908.20 531.48 L912.50 531.51 L916.79 531.54 L921.09 531.57 L925.39 531.60 L929.69 531.62 L933.99 531.65 L938.29 531.67 L942.59 531.70 L946.89 531.72" stroke="#000000" stroke-width="1.8"/>
</g>
<g fill="none" stroke-linecap="butt" stroke-linejoin="round" clip-path="url(#cr)">
<path d="M1097.26 178.00 L1098.62 198.37 L1099.99 216.94 L1101.36 233.93 L1102.73 249.56 L1104.09 264.00 L1105.46 277.39 L1106.83 289.86 L1108.19 301.51 L1109.56 312.43 L1110.93 322.70 L1112.29 332.38 L1113.66 341.52 L1115.03 350.18 L1116.40 358.39 L1117.76 366.20 L1119.13 373.63 L1120.50 380.70 L1121.86 387.46 L1123.23 393.91 L1124.60 400.07 L1125.96 405.97 L1127.33 411.61 L1128.70 417.02 L1130.06 422.20 L1131.43 427.16 L1132.80 431.92 L1134.17 436.49 L1135.53 440.88 L1136.90 445.09 L1138.27 449.13 L1139.63 453.01 L1141.00 456.74 L1142.37 460.32 L1143.73 463.76 L1145.10 467.07 L1146.47 470.24 L1147.84 473.30 L1149.20 476.23 L1150.57 479.05 L1151.94 481.76 L1153.30 484.36 L1154.67 486.87 L1156.04 489.28 L1157.40 491.59 L1158.77 493.81 L1160.14 495.95 L1161.51 498.01 L1162.87 499.98 L1164.24 501.89 L1165.61 503.71 L1166.97 505.47 L1168.34 507.16 L1169.71 508.78 L1171.07 510.34 L1172.44 511.84 L1173.81 513.29 L1175.17 514.67 L1176.54 516.01 L1177.91 517.29 L1179.28 518.52 L1180.64 519.71 L1182.01 520.85 L1183.38 521.94 L1184.74 523.00 L1186.11 524.01 L1187.48 524.98 L1188.84 525.92 L1190.21 526.82 L1191.58 527.69 L1192.95 528.52 L1194.31 529.32 L1195.68 530.09 L1197.05 530.83 L1198.41 531.54 L1199.78 532.22 L1201.15 532.88 L1202.51 533.51 L1203.88 534.12 L1205.25 534.71 L1206.61 535.27 L1207.98 535.81 L1209.35 536.33 L1210.72 536.83 L1212.08 537.31 L1213.45 537.77 L1214.82 538.22 L1216.18 538.64 L1217.55 539.05 L1218.92 539.45 L1220.28 539.83 L1221.65 540.19 L1223.02 540.54 L1224.39 540.88 L1225.75 541.20 L1227.12 541.52 L1228.49 541.82 L1229.85 542.10 L1231.22 542.38 L1232.59 542.65 L1233.95 542.90 L1235.32 543.15 L1236.69 543.39 L1238.05 543.61 L1239.42 543.83 L1240.79 544.04 L1242.16 544.25 L1243.52 544.44 L1244.89 544.63 L1246.26 544.81 L1247.62 544.98 L1248.99 545.15 L1250.36 545.31 L1251.72 545.46 L1253.09 545.61 L1254.46 545.75 L1255.83 545.89 L1257.19 546.02 L1258.56 546.15 L1259.93 546.27 L1261.29 546.38 L1262.66 546.50 L1264.03 546.60 L1265.39 546.71 L1266.76 546.81 L1268.13 546.90 L1269.49 547.00 L1270.86 547.09 L1272.23 547.17 L1273.60 547.25 L1274.96 547.33 L1276.33 547.41 L1277.70 547.48 L1279.06 547.55 L1280.43 547.62 L1281.80 547.68 L1283.16 547.74 L1284.53 547.80 L1285.90 547.86 L1287.27 547.92 L1288.63 547.97 L1290.00 548.02 L1291.37 548.07 L1292.73 548.12 L1294.10 548.16 L1295.47 548.21 L1296.83 548.25 L1298.20 548.29 L1299.57 548.33 L1300.93 548.37 L1302.30 548.40 L1303.67 548.44 L1305.04 548.47 L1306.40 548.50 L1307.77 548.53 L1309.14 548.56 L1310.50 548.59 L1311.87 548.62 L1313.24 548.64 L1314.60 548.67 L1315.97 548.69 L1317.34 548.72 L1318.71 548.74 L1320.07 548.76 L1321.44 548.78 L1322.81 548.80 L1324.17 548.82 L1325.54 548.84 L1326.91 548.86 L1328.27 548.87 L1329.64 548.89 L1331.01 548.91 L1332.37 548.92 L1333.74 548.94 L1335.11 548.95 L1336.48 548.96 L1337.84 548.98 L1339.21 548.99 L1340.58 549.00 L1341.94 549.01 L1343.31 549.02 L1344.68 549.03 L1346.04 549.04 L1347.41 549.05 L1348.78 549.06 L1350.15 549.07 L1351.51 549.08 L1352.88 549.09 L1354.25 549.10 L1355.61 549.11 L1356.98 549.11 L1358.35 549.12 L1359.71 549.13 L1361.08 549.13 L1362.45 549.14 L1363.81 549.15 L1365.18 549.15 L1366.55 549.16 L1367.92 549.16 L1369.28 549.17 L1370.65 549.17 L1372.02 549.18 L1373.38 549.18 L1374.75 549.19 L1376.12 549.19 L1377.48 549.20 L1378.85 549.20 L1380.22 549.20 L1381.59 549.21 L1382.95 549.21 L1384.32 549.21 L1385.69 549.22 L1387.05 549.22 L1388.42 549.22 L1389.79 549.23 L1391.15 549.23 L1392.52 549.23 L1393.89 549.24 L1395.25 549.24 L1396.62 549.24 L1397.99 549.24 L1399.36 549.24 L1400.72 549.25 L1402.09 549.25 L1403.46 549.25 L1404.82 549.25 L1406.19 549.25 L1407.56 549.26 L1408.92 549.26 L1410.29 549.26 L1411.66 549.26 L1413.03 549.26 L1414.39 549.26 L1415.76 549.27 L1417.13 549.27 L1418.49 549.27 L1419.86 549.27 L1421.23 549.27 L1422.59 549.27 L1423.96 549.27 L1425.33 549.27 L1426.69 549.27 L1428.06 549.28 L1429.43 549.28 L1430.80 549.28 L1432.16 549.28 L1433.53 549.28 L1434.90 549.28 L1436.26 549.28 L1437.63 549.28 L1439.00 549.28 L1440.36 549.28 L1441.73 549.28 L1443.10 549.28 L1444.47 549.28 L1445.83 549.29 L1447.20 549.29 L1448.57 549.29 L1449.93 549.29 L1451.30 549.29 L1456.75 549.29 L1462.19 549.29 L1467.64 549.29 L1473.09 549.29 L1478.53 549.29 L1483.98 549.30 L1489.43 549.30 L1494.87 549.30 L1500.32 549.30 L1505.77 549.30 L1511.22 549.30 L1516.66 549.30 L1522.11 549.30 L1527.56 549.30 L1533.00 549.30 L1538.45 549.30 L1543.90 549.30 L1549.34 549.30 L1554.79 549.30 L1560.24 549.30 L1565.68 549.30 L1571.13 549.30 L1576.58 549.30 L1582.02 549.30 L1587.47 549.30 L1592.92 549.30 L1598.37 549.30 L1603.81 549.30 L1609.26 549.30 L1614.71 549.30 L1620.15 549.30 L1625.60 549.30 L1631.05 549.30 L1636.49 549.30 L1641.94 549.30 L1647.39 549.30 L1652.83 549.30 L1658.28 549.30 L1663.73 549.30 L1669.17 549.30 L1674.62 549.30 L1680.07 549.30 L1685.52 549.30 L1690.96 549.30 L1696.41 549.30 L1701.86 549.30 L1707.30 549.30 L1712.75 549.30 L1718.20 549.30 L1723.64 549.30 L1729.09 549.30 L1734.54 549.30 L1739.98 549.30 L1745.43 549.30 L1750.88 549.30 L1756.32 549.30 L1761.77 549.30 L1767.22 549.30 L1772.67 549.30 L1778.11 549.30 L1783.56 549.30 L1789.01 549.30 L1794.45 549.30 L1799.90 549.30 L1805.35 549.30 L1810.79 549.30 L1816.24 549.30 L1821.69 549.30 L1827.13 549.30 L1832.58 549.30 L1838.03 549.30 L1843.47 549.30 L1848.92 549.30 L1854.37 549.30 L1859.82 549.30 L1865.26 549.30 L1870.71 549.30 L1876.16 549.30 L1881.60 549.30 L1887.05 549.30 L1892.50 549.30 L1897.94 549.30 L1903.39 549.30 L1908.84 549.30 L1914.28 549.30 L1919.73 549.30 L1925.18 549.30 L1930.62 549.30 L1936.07 549.30 L1941.52 549.30 L1946.97 549.30 L1952.41 549.30 L1957.86 549.30 L1963.31 549.30 L1968.75 549.30 L1974.20 549.30 L1979.65 549.30 L1985.09 549.30 L1990.54 549.30" stroke="#3f42a6" stroke-width="4.6"/>
<path d="M1097.26 178.00 L1098.62 198.37 L1099.99 216.94 L1101.36 233.93 L1102.73 249.56 L1104.09 264.00 L1105.46 277.39 L1106.83 289.86 L1108.19 301.51 L1109.56 312.43 L1110.93 322.70 L1112.29 332.38 L1113.66 341.52 L1115.03 350.18 L1116.40 358.39 L1117.76 366.20 L1119.13 373.63 L1120.50 380.70 L1121.86 387.46 L1123.23 393.91 L1124.60 400.07 L1125.96 405.97 L1127.33 411.61 L1128.70 417.02 L1130.06 422.20 L1131.43 427.16 L1132.80 431.92 L1134.17 436.49 L1135.53 440.88 L1136.90 445.09 L1138.27 449.13 L1139.63 453.01 L1141.00 456.74 L1142.37 460.32 L1143.73 463.76 L1145.10 467.07 L1146.47 470.24 L1147.84 473.30 L1149.20 476.23 L1150.57 479.05 L1151.94 481.76 L1153.30 484.36 L1154.67 486.87 L1156.04 489.28 L1157.40 491.59 L1158.77 493.81 L1160.14 495.95 L1161.51 498.01 L1162.87 499.98 L1164.24 501.89 L1165.61 503.71 L1166.97 505.47 L1168.34 507.16 L1169.71 508.78 L1171.07 510.34 L1172.44 511.84 L1173.81 513.29 L1175.17 514.67 L1176.54 516.01 L1177.91 517.29 L1179.28 518.52 L1180.64 519.71 L1182.01 520.85 L1183.38 521.94 L1184.74 523.00 L1186.11 524.01 L1187.48 524.98 L1188.84 525.92 L1190.21 526.82 L1191.58 527.69 L1192.95 528.52 L1194.31 529.32 L1195.68 530.09 L1197.05 530.83 L1198.41 531.54 L1199.78 532.22 L1201.15 532.88 L1202.51 533.51 L1203.88 534.12 L1205.25 534.71 L1206.61 535.27 L1207.98 535.81 L1209.35 536.33 L1210.72 536.83 L1212.08 537.31 L1213.45 537.77 L1214.82 538.22 L1216.18 538.64 L1217.55 539.05 L1218.92 539.45 L1220.28 539.83 L1221.65 540.19 L1223.02 540.54 L1224.39 540.88 L1225.75 541.20 L1227.12 541.52 L1228.49 541.82 L1229.85 542.10 L1231.22 542.38 L1232.59 542.65 L1233.95 542.90 L1235.32 543.15 L1236.69 543.39 L1238.05 543.61 L1239.42 543.83 L1240.79 544.04 L1242.16 544.25 L1243.52 544.44 L1244.89 544.63 L1246.26 544.81 L1247.62 544.98 L1248.99 545.15 L1250.36 545.31 L1251.72 545.46 L1253.09 545.61 L1254.46 545.75 L1255.83 545.89 L1257.19 546.02 L1258.56 546.15 L1259.93 546.27 L1261.29 546.38 L1262.66 546.50 L1264.03 546.60 L1265.39 546.71 L1266.76 546.81 L1268.13 546.90 L1269.49 547.00 L1270.86 547.09 L1272.23 547.17 L1273.60 547.25 L1274.96 547.33 L1276.33 547.41 L1277.70 547.48 L1279.06 547.55 L1280.43 547.62 L1281.80 547.68 L1283.16 547.74 L1284.53 547.80 L1285.90 547.86 L1287.27 547.92 L1288.63 547.97 L1290.00 548.02 L1291.37 548.07 L1292.73 548.12 L1294.10 548.16 L1295.47 548.21 L1296.83 548.25 L1298.20 548.29 L1299.57 548.33 L1300.93 548.37 L1302.30 548.40 L1303.67 548.44 L1305.04 548.47 L1306.40 548.50 L1307.77 548.53 L1309.14 548.56 L1310.50 548.59 L1311.87 548.62 L1313.24 548.64 L1314.60 548.67 L1315.97 548.69 L1317.34 548.72 L1318.71 548.74 L1320.07 548.76 L1321.44 548.78 L1322.81 548.80 L1324.17 548.82 L1325.54 548.84 L1326.91 548.86 L1328.27 548.87 L1329.64 548.89 L1331.01 548.91 L1332.37 548.92 L1333.74 548.94 L1335.11 548.95 L1336.48 548.96 L1337.84 548.98 L1339.21 548.99 L1340.58 549.00 L1341.94 549.01 L1343.31 549.02 L1344.68 549.03 L1346.04 549.04 L1347.41 549.05 L1348.78 549.06 L1350.15 549.07 L1351.51 549.08 L1352.88 549.09 L1354.25 549.10 L1355.61 549.11 L1356.98 549.11 L1358.35 549.12 L1359.71 549.13 L1361.08 549.13 L1362.45 549.14 L1363.81 549.15 L1365.18 549.15 L1366.55 549.16 L1367.92 549.16 L1369.28 549.17 L1370.65 549.17 L1372.02 549.18 L1373.38 549.18 L1374.75 549.19 L1376.12 549.19 L1377.48 549.20 L1378.85 549.20 L1380.22 549.20 L1381.59 549.21 L1382.95 549.21 L1384.32 549.21 L1385.69 549.22 L1387.05 549.22 L1388.42 549.22 L1389.79 549.23 L1391.15 549.23 L1392.52 549.23 L1393.89 549.24 L1395.25 549.24 L1396.62 549.24 L1397.99 549.24 L1399.36 549.24 L1400.72 549.25 L1402.09 549.25 L1403.46 549.25 L1404.82 549.25 L1406.19 549.25 L1407.56 549.26 L1408.92 549.26 L1410.29 549.26 L1411.66 549.26 L1413.03 549.26 L1414.39 549.26 L1415.76 549.27 L1417.13 549.27 L1418.49 549.27 L1419.86 549.27 L1421.23 549.27 L1422.59 549.27 L1423.96 549.27 L1425.33 549.27 L1426.69 549.27 L1428.06 549.28 L1429.43 549.28 L1430.80 549.28 L1432.16 549.28 L1433.53 549.28 L1434.90 549.28 L1436.26 549.28 L1437.63 549.28 L1439.00 549.28 L1440.36 549.28 L1441.73 549.28 L1443.10 549.28 L1444.47 549.28 L1445.83 549.29 L1447.20 549.29 L1448.57 549.29 L1449.93 549.29 L1451.30 549.29 L1456.75 549.29 L1462.19 549.29 L1467.64 549.29 L1473.09 549.29 L1478.53 549.29 L1483.98 549.30 L1489.43 549.30 L1494.87 549.30 L1500.32 549.30 L1505.77 549.30 L1511.22 549.30 L1516.66 549.30 L1522.11 549.30 L1527.56 549.30 L1533.00 549.30 L1538.45 549.30 L1543.90 549.30 L1549.34 549.30 L1554.79 549.30 L1560.24 549.30 L1565.68 549.30 L1571.13 549.30 L1576.58 549.30 L1582.02 549.30 L1587.47 549.30 L1592.92 549.30 L1598.37 549.30 L1603.81 549.30 L1609.26 549.30 L1614.71 549.30 L1620.15 549.30 L1625.60 549.30 L1631.05 549.30 L1636.49 549.30 L1641.94 549.30 L1647.39 549.30 L1652.83 549.30 L1658.28 549.30 L1663.73 549.30 L1669.17 549.30 L1674.62 549.30 L1680.07 549.30 L1685.52 549.30 L1690.96 549.30 L1696.41 549.30 L1701.86 549.30 L1707.30 549.30 L1712.75 549.30 L1718.20 549.30 L1723.64 549.30 L1729.09 549.30 L1734.54 549.30 L1739.98 549.30 L1745.43 549.30 L1750.88 549.30 L1756.32 549.30 L1761.77 549.30 L1767.22 549.30 L1772.67 549.30 L1778.11 549.30 L1783.56 549.30 L1789.01 549.30 L1794.45 549.30 L1799.90 549.30 L1805.35 549.30 L1810.79 549.30 L1816.24 549.30 L1821.69 549.30 L1827.13 549.30 L1832.58 549.30 L1838.03 549.30 L1843.47 549.30 L1848.92 549.30 L1854.37 549.30 L1859.82 549.30 L1865.26 549.30 L1870.71 549.30 L1876.16 549.30 L1881.60 549.30 L1887.05 549.30 L1892.50 549.30 L1897.94 549.30 L1903.39 549.30 L1908.84 549.30 L1914.28 549.30 L1919.73 549.30 L1925.18 549.30 L1930.62 549.30 L1936.07 549.30 L1941.52 549.30 L1946.97 549.30 L1952.41 549.30 L1957.86 549.30 L1963.31 549.30 L1968.75 549.30 L1974.20 549.30 L1979.65 549.30 L1985.09 549.30 L1990.54 549.30" stroke="#ee1f27" stroke-width="2.1"/>
<path d="M1097.26 180.58 L1098.62 193.47 L1099.99 205.90 L1101.36 217.90 L1102.73 229.48 L1104.09 240.65 L1105.46 251.44 L1106.83 261.84 L1108.19 271.89 L1109.56 281.58 L1110.93 290.94 L1112.29 299.96 L1113.66 308.68 L1115.03 317.08 L1116.40 325.20 L1117.76 333.03 L1119.13 340.58 L1120.50 347.88 L1121.86 354.91 L1123.23 361.71 L1124.60 368.26 L1125.96 374.59 L1127.33 380.69 L1128.70 386.58 L1130.06 392.27 L1131.43 397.75 L1132.80 403.05 L1134.17 408.16 L1135.53 413.09 L1136.90 417.85 L1138.27 422.44 L1139.63 426.88 L1141.00 431.15 L1142.37 435.28 L1143.73 439.27 L1145.10 443.11 L1146.47 446.82 L1147.84 450.40 L1149.20 453.86 L1150.57 457.19 L1151.94 460.41 L1153.30 463.52 L1154.67 466.51 L1156.04 469.41 L1157.40 472.20 L1158.77 474.89 L1160.14 477.49 L1161.51 480.00 L1162.87 482.42 L1164.24 484.76 L1165.61 487.01 L1166.97 489.19 L1168.34 491.29 L1169.71 493.32 L1171.07 495.27 L1172.44 497.16 L1173.81 498.98 L1175.17 500.74 L1176.54 502.44 L1177.91 504.07 L1179.28 505.66 L1180.64 507.18 L1182.01 508.65 L1183.38 510.07 L1184.74 511.44 L1186.11 512.77 L1187.48 514.04 L1188.84 515.27 L1190.21 516.46 L1191.58 517.61 L1192.95 518.72 L1194.31 519.79 L1195.68 520.82 L1197.05 521.81 L1198.41 522.77 L1199.78 523.70 L1201.15 524.59 L1202.51 525.46 L1203.88 526.29 L1205.25 527.09 L1206.61 527.87 L1207.98 528.62 L1209.35 529.34 L1210.72 530.04 L1212.08 530.71 L1213.45 531.36 L1214.82 531.99 L1216.18 532.59 L1217.55 533.18 L1218.92 533.74 L1220.28 534.28 L1221.65 534.81 L1223.02 535.31 L1224.39 535.80 L1225.75 536.28 L1227.12 536.73 L1228.49 537.17 L1229.85 537.59 L1231.22 538.00 L1232.59 538.40 L1233.95 538.78 L1235.32 539.15 L1236.69 539.50 L1238.05 539.84 L1239.42 540.17 L1240.79 540.49 L1242.16 540.80 L1243.52 541.10 L1244.89 541.38 L1246.26 541.66 L1247.62 541.93 L1248.99 542.18 L1250.36 542.43 L1251.72 542.67 L1253.09 542.90 L1254.46 543.13 L1255.83 543.34 L1257.19 543.55 L1258.56 543.75 L1259.93 543.95 L1261.29 544.13 L1262.66 544.31 L1264.03 544.49 L1265.39 544.66 L1266.76 544.82 L1268.13 544.98 L1269.49 545.13 L1270.86 545.27 L1272.23 545.41 L1273.60 545.55 L1274.96 545.68 L1276.33 545.81 L1277.70 545.93 L1279.06 546.05 L1280.43 546.16 L1281.80 546.27 L1283.16 546.38 L1284.53 546.48 L1285.90 546.58 L1287.27 546.67 L1288.63 546.76 L1290.00 546.85 L1291.37 546.94 L1292.73 547.02 L1294.10 547.10 L1295.47 547.18 L1296.83 547.25 L1298.20 547.32 L1299.57 547.39 L1300.93 547.46 L1302.30 547.52 L1303.67 547.58 L1305.04 547.64 L1306.40 547.70 L1307.77 547.76 L1309.14 547.81 L1310.50 547.86 L1311.87 547.91 L1313.24 547.96 L1314.60 548.01 L1315.97 548.05 L1317.34 548.10 L1318.71 548.14 L1320.07 548.18 L1321.44 548.22 L1322.81 548.26 L1324.17 548.29 L1325.54 548.33 L1326.91 548.36 L1328.27 548.40 L1329.64 548.43 L1331.01 548.46 L1332.37 548.49 L1333.74 548.52 L1335.11 548.54 L1336.48 548.57 L1337.84 548.59 L1339.21 548.62 L1340.58 548.64 L1341.94 548.67 L1343.31 548.69 L1344.68 548.71 L1346.04 548.73 L1347.41 548.75 L1348.78 548.77 L1350.15 548.79 L1351.51 548.81 L1352.88 548.82 L1354.25 548.84 L1355.61 548.86 L1356.98 548.87 L1358.35 548.89 L1359.71 548.90 L1361.08 548.91 L1362.45 548.93 L1363.81 548.94 L1365.18 548.95 L1366.55 548.97 L1367.92 548.98 L1369.28 548.99 L1370.65 549.00 L1372.02 549.01 L1373.38 549.02 L1374.75 549.03 L1376.12 549.04 L1377.48 549.05 L1378.85 549.06 L1380.22 549.07 L1381.59 549.07 L1382.95 549.08 L1384.32 549.09 L1385.69 549.10 L1387.05 549.10 L1388.42 549.11 L1389.79 549.12 L1391.15 549.12 L1392.52 549.13 L1393.89 549.14 L1395.25 549.14 L1396.62 549.15 L1397.99 549.15 L1399.36 549.16 L1400.72 549.16 L1402.09 549.17 L1403.46 549.17 L1404.82 549.18 L1406.19 549.18 L1407.56 549.19 L1408.92 549.19 L1410.29 549.19 L1411.66 549.20 L1413.03 549.20 L1414.39 549.20 L1415.76 549.21 L1417.13 549.21 L1418.49 549.21 L1419.86 549.22 L1421.23 549.22 L1422.59 549.22 L1423.96 549.22 L1425.33 549.23 L1426.69 549.23 L1428.06 549.23 L1429.43 549.23 L1430.80 549.24 L1432.16 549.24 L1433.53 549.24 L1434.90 549.24 L1436.26 549.25 L1437.63 549.25 L1439.00 549.25 L1440.36 549.25 L1441.73 549.25 L1443.10 549.25 L1444.47 549.26 L1445.83 549.26 L1447.20 549.26 L1448.57 549.26 L1449.93 549.26 L1451.30 549.26 L1456.75 549.27 L1462.19 549.27 L1467.64 549.28 L1473.09 549.28 L1478.53 549.28 L1483.98 549.28 L1489.43 549.29 L1494.87 549.29 L1500.32 549.29 L1505.77 549.29 L1511.22 549.29 L1516.66 549.29 L1522.11 549.29 L1527.56 549.29 L1533.00 549.30 L1538.45 549.30 L1543.90 549.30 L1549.34 549.30 L1554.79 549.30 L1560.24 549.30 L1565.68 549.30 L1571.13 549.30 L1576.58 549.30 L1582.02 549.30 L1587.47 549.30 L1592.92 549.30 L1598.37 549.30 L1603.81 549.30 L1609.26 549.30 L1614.71 549.30 L1620.15 549.30 L1625.60 549.30 L1631.05 549.30 L1636.49 549.30 L1641.94 549.30 L1647.39 549.30 L1652.83 549.30 L1658.28 549.30 L1663.73 549.30 L1669.17 549.30 L1674.62 549.30 L1680.07 549.30 L1685.52 549.30 L1690.96 549.30 L1696.41 549.30 L1701.86 549.30 L1707.30 549.30 L1712.75 549.30 L1718.20 549.30 L1723.64 549.30 L1729.09 549.30 L1734.54 549.30 L1739.98 549.30 L1745.43 549.30 L1750.88 549.30 L1756.32 549.30 L1761.77 549.30 L1767.22 549.30 L1772.67 549.30 L1778.11 549.30 L1783.56 549.30 L1789.01 549.30 L1794.45 549.30 L1799.90 549.30 L1805.35 549.30 L1810.79 549.30 L1816.24 549.30 L1821.69 549.30 L1827.13 549.30 L1832.58 549.30 L1838.03 549.30 L1843.47 549.30 L1848.92 549.30 L1854.37 549.30 L1859.82 549.30 L1865.26 549.30 L1870.71 549.30 L1876.16 549.30 L1881.60 549.30 L1887.05 549.30 L1892.50 549.30 L1897.94 549.30 L1903.39 549.30 L1908.84 549.30 L1914.28 549.30 L1919.73 549.30 L1925.18 549.30 L1930.62 549.30 L1936.07 549.30 L1941.52 549.30 L1946.97 549.30 L1952.41 549.30 L1957.86 549.30 L1963.31 549.30 L1968.75 549.30 L1974.20 549.30 L1979.65 549.30 L1985.09 549.30 L1990.54 549.30" stroke="#3f42a6" stroke-width="4.6"/>
<path d="M1097.26 180.58 L1098.62 193.47 L1099.99 205.90 L1101.36 217.90 L1102.73 229.48 L1104.09 240.65 L1105.46 251.44 L1106.83 261.84 L1108.19 271.89 L1109.56 281.58 L1110.93 290.94 L1112.29 299.96 L1113.66 308.68 L1115.03 317.08 L1116.40 325.20 L1117.76 333.03 L1119.13 340.58 L1120.50 347.88 L1121.86 354.91 L1123.23 361.71 L1124.60 368.26 L1125.96 374.59 L1127.33 380.69 L1128.70 386.58 L1130.06 392.27 L1131.43 397.75 L1132.80 403.05 L1134.17 408.16 L1135.53 413.09 L1136.90 417.85 L1138.27 422.44 L1139.63 426.88 L1141.00 431.15 L1142.37 435.28 L1143.73 439.27 L1145.10 443.11 L1146.47 446.82 L1147.84 450.40 L1149.20 453.86 L1150.57 457.19 L1151.94 460.41 L1153.30 463.52 L1154.67 466.51 L1156.04 469.41 L1157.40 472.20 L1158.77 474.89 L1160.14 477.49 L1161.51 480.00 L1162.87 482.42 L1164.24 484.76 L1165.61 487.01 L1166.97 489.19 L1168.34 491.29 L1169.71 493.32 L1171.07 495.27 L1172.44 497.16 L1173.81 498.98 L1175.17 500.74 L1176.54 502.44 L1177.91 504.07 L1179.28 505.66 L1180.64 507.18 L1182.01 508.65 L1183.38 510.07 L1184.74 511.44 L1186.11 512.77 L1187.48 514.04 L1188.84 515.27 L1190.21 516.46 L1191.58 517.61 L1192.95 518.72 L1194.31 519.79 L1195.68 520.82 L1197.05 521.81 L1198.41 522.77 L1199.78 523.70 L1201.15 524.59 L1202.51 525.46 L1203.88 526.29 L1205.25 527.09 L1206.61 527.87 L1207.98 528.62 L1209.35 529.34 L1210.72 530.04 L1212.08 530.71 L1213.45 531.36 L1214.82 531.99 L1216.18 532.59 L1217.55 533.18 L1218.92 533.74 L1220.28 534.28 L1221.65 534.81 L1223.02 535.31 L1224.39 535.80 L1225.75 536.28 L1227.12 536.73 L1228.49 537.17 L1229.85 537.59 L1231.22 538.00 L1232.59 538.40 L1233.95 538.78 L1235.32 539.15 L1236.69 539.50 L1238.05 539.84 L1239.42 540.17 L1240.79 540.49 L1242.16 540.80 L1243.52 541.10 L1244.89 541.38 L1246.26 541.66 L1247.62 541.93 L1248.99 542.18 L1250.36 542.43 L1251.72 542.67 L1253.09 542.90 L1254.46 543.13 L1255.83 543.34 L1257.19 543.55 L1258.56 543.75 L1259.93 543.95 L1261.29 544.13 L1262.66 544.31 L1264.03 544.49 L1265.39 544.66 L1266.76 544.82 L1268.13 544.98 L1269.49 545.13 L1270.86 545.27 L1272.23 545.41 L1273.60 545.55 L1274.96 545.68 L1276.33 545.81 L1277.70 545.93 L1279.06 546.05 L1280.43 546.16 L1281.80 546.27 L1283.16 546.38 L1284.53 546.48 L1285.90 546.58 L1287.27 546.67 L1288.63 546.76 L1290.00 546.85 L1291.37 546.94 L1292.73 547.02 L1294.10 547.10 L1295.47 547.18 L1296.83 547.25 L1298.20 547.32 L1299.57 547.39 L1300.93 547.46 L1302.30 547.52 L1303.67 547.58 L1305.04 547.64 L1306.40 547.70 L1307.77 547.76 L1309.14 547.81 L1310.50 547.86 L1311.87 547.91 L1313.24 547.96 L1314.60 548.01 L1315.97 548.05 L1317.34 548.10 L1318.71 548.14 L1320.07 548.18 L1321.44 548.22 L1322.81 548.26 L1324.17 548.29 L1325.54 548.33 L1326.91 548.36 L1328.27 548.40 L1329.64 548.43 L1331.01 548.46 L1332.37 548.49 L1333.74 548.52 L1335.11 548.54 L1336.48 548.57 L1337.84 548.59 L1339.21 548.62 L1340.58 548.64 L1341.94 548.67 L1343.31 548.69 L1344.68 548.71 L1346.04 548.73 L1347.41 548.75 L1348.78 548.77 L1350.15 548.79 L1351.51 548.81 L1352.88 548.82 L1354.25 548.84 L1355.61 548.86 L1356.98 548.87 L1358.35 548.89 L1359.71 548.90 L1361.08 548.91 L1362.45 548.93 L1363.81 548.94 L1365.18 548.95 L1366.55 548.97 L1367.92 548.98 L1369.28 548.99 L1370.65 549.00 L1372.02 549.01 L1373.38 549.02 L1374.75 549.03 L1376.12 549.04 L1377.48 549.05 L1378.85 549.06 L1380.22 549.07 L1381.59 549.07 L1382.95 549.08 L1384.32 549.09 L1385.69 549.10 L1387.05 549.10 L1388.42 549.11 L1389.79 549.12 L1391.15 549.12 L1392.52 549.13 L1393.89 549.14 L1395.25 549.14 L1396.62 549.15 L1397.99 549.15 L1399.36 549.16 L1400.72 549.16 L1402.09 549.17 L1403.46 549.17 L1404.82 549.18 L1406.19 549.18 L1407.56 549.19 L1408.92 549.19 L1410.29 549.19 L1411.66 549.20 L1413.03 549.20 L1414.39 549.20 L1415.76 549.21 L1417.13 549.21 L1418.49 549.21 L1419.86 549.22 L1421.23 549.22 L1422.59 549.22 L1423.96 549.22 L1425.33 549.23 L1426.69 549.23 L1428.06 549.23 L1429.43 549.23 L1430.80 549.24 L1432.16 549.24 L1433.53 549.24 L1434.90 549.24 L1436.26 549.25 L1437.63 549.25 L1439.00 549.25 L1440.36 549.25 L1441.73 549.25 L1443.10 549.25 L1444.47 549.26 L1445.83 549.26 L1447.20 549.26 L1448.57 549.26 L1449.93 549.26 L1451.30 549.26 L1456.75 549.27 L1462.19 549.27 L1467.64 549.28 L1473.09 549.28 L1478.53 549.28 L1483.98 549.28 L1489.43 549.29 L1494.87 549.29 L1500.32 549.29 L1505.77 549.29 L1511.22 549.29 L1516.66 549.29 L1522.11 549.29 L1527.56 549.29 L1533.00 549.30 L1538.45 549.30 L1543.90 549.30 L1549.34 549.30 L1554.79 549.30 L1560.24 549.30 L1565.68 549.30 L1571.13 549.30 L1576.58 549.30 L1582.02 549.30 L1587.47 549.30 L1592.92 549.30 L1598.37 549.30 L1603.81 549.30 L1609.26 549.30 L1614.71 549.30 L1620.15 549.30 L1625.60 549.30 L1631.05 549.30 L1636.49 549.30 L1641.94 549.30 L1647.39 549.30 L1652.83 549.30 L1658.28 549.30 L1663.73 549.30 L1669.17 549.30 L1674.62 549.30 L1680.07 549.30 L1685.52 549.30 L1690.96 549.30 L1696.41 549.30 L1701.86 549.30 L1707.30 549.30 L1712.75 549.30 L1718.20 549.30 L1723.64 549.30 L1729.09 549.30 L1734.54 549.30 L1739.98 549.30 L1745.43 549.30 L1750.88 549.30 L1756.32 549.30 L1761.77 549.30 L1767.22 549.30 L1772.67 549.30 L1778.11 549.30 L1783.56 549.30 L1789.01 549.30 L1794.45 549.30 L1799.90 549.30 L1805.35 549.30 L1810.79 549.30 L1816.24 549.30 L1821.69 549.30 L1827.13 549.30 L1832.58 549.30 L1838.03 549.30 L1843.47 549.30 L1848.92 549.30 L1854.37 549.30 L1859.82 549.30 L1865.26 549.30 L1870.71 549.30 L1876.16 549.30 L1881.60 549.30 L1887.05 549.30 L1892.50 549.30 L1897.94 549.30 L1903.39 549.30 L1908.84 549.30 L1914.28 549.30 L1919.73 549.30 L1925.18 549.30 L1930.62 549.30 L1936.07 549.30 L1941.52 549.30 L1946.97 549.30 L1952.41 549.30 L1957.86 549.30 L1963.31 549.30 L1968.75 549.30 L1974.20 549.30 L1979.65 549.30 L1985.09 549.30 L1990.54 549.30" stroke="#ee1f27" stroke-width="2.1"/>
<path d="M1097.26 181.28 L1098.62 192.05 L1099.99 202.50 L1101.36 212.65 L1102.73 222.49 L1104.09 232.05 L1105.46 241.33 L1106.83 250.34 L1108.19 259.09 L1109.56 267.58 L1110.93 275.82 L1112.29 283.82 L1113.66 291.59 L1115.03 299.12 L1116.40 306.44 L1117.76 313.55 L1119.13 320.44 L1120.50 327.14 L1121.86 333.64 L1123.23 339.95 L1124.60 346.07 L1125.96 352.02 L1127.33 357.79 L1128.70 363.39 L1130.06 368.83 L1131.43 374.11 L1132.80 379.23 L1134.17 384.21 L1135.53 389.04 L1136.90 393.72 L1138.27 398.28 L1139.63 402.69 L1141.00 406.98 L1142.37 411.15 L1143.73 415.19 L1145.10 419.11 L1146.47 422.92 L1147.84 426.62 L1149.20 430.20 L1150.57 433.69 L1151.94 437.07 L1153.30 440.35 L1154.67 443.54 L1156.04 446.63 L1157.40 449.64 L1158.77 452.55 L1160.14 455.38 L1161.51 458.13 L1162.87 460.80 L1164.24 463.39 L1165.61 465.90 L1166.97 468.34 L1168.34 470.71 L1169.71 473.01 L1171.07 475.24 L1172.44 477.41 L1173.81 479.51 L1175.17 481.55 L1176.54 483.53 L1177.91 485.46 L1179.28 487.32 L1180.64 489.14 L1182.01 490.90 L1183.38 492.61 L1184.74 494.26 L1186.11 495.87 L1187.48 497.44 L1188.84 498.95 L1190.21 500.43 L1191.58 501.86 L1192.95 503.24 L1194.31 504.59 L1195.68 505.90 L1197.05 507.17 L1198.41 508.40 L1199.78 509.60 L1201.15 510.76 L1202.51 511.89 L1203.88 512.98 L1205.25 514.04 L1206.61 515.07 L1207.98 516.08 L1209.35 517.05 L1210.72 517.99 L1212.08 518.91 L1213.45 519.80 L1214.82 520.66 L1216.18 521.50 L1217.55 522.31 L1218.92 523.10 L1220.28 523.87 L1221.65 524.61 L1223.02 525.33 L1224.39 526.03 L1225.75 526.71 L1227.12 527.38 L1228.49 528.02 L1229.85 528.64 L1231.22 529.24 L1232.59 529.83 L1233.95 530.40 L1235.32 530.95 L1236.69 531.49 L1238.05 532.01 L1239.42 532.52 L1240.79 533.01 L1242.16 533.48 L1243.52 533.95 L1244.89 534.40 L1246.26 534.83 L1247.62 535.25 L1248.99 535.67 L1250.36 536.06 L1251.72 536.45 L1253.09 536.83 L1254.46 537.19 L1255.83 537.55 L1257.19 537.89 L1258.56 538.22 L1259.93 538.55 L1261.29 538.86 L1262.66 539.17 L1264.03 539.46 L1265.39 539.75 L1266.76 540.03 L1268.13 540.30 L1269.49 540.57 L1270.86 540.82 L1272.23 541.07 L1273.60 541.31 L1274.96 541.54 L1276.33 541.77 L1277.70 541.99 L1279.06 542.20 L1280.43 542.41 L1281.80 542.61 L1283.16 542.81 L1284.53 543.00 L1285.90 543.18 L1287.27 543.36 L1288.63 543.54 L1290.00 543.70 L1291.37 543.87 L1292.73 544.03 L1294.10 544.18 L1295.47 544.33 L1296.83 544.48 L1298.20 544.62 L1299.57 544.75 L1300.93 544.89 L1302.30 545.02 L1303.67 545.14 L1305.04 545.26 L1306.40 545.38 L1307.77 545.50 L1309.14 545.61 L1310.50 545.72 L1311.87 545.82 L1313.24 545.92 L1314.60 546.02 L1315.97 546.12 L1317.34 546.21 L1318.71 546.30 L1320.07 546.39 L1321.44 546.47 L1322.81 546.56 L1324.17 546.64 L1325.54 546.71 L1326.91 546.79 L1328.27 546.86 L1329.64 546.93 L1331.01 547.00 L1332.37 547.07 L1333.74 547.14 L1335.11 547.20 L1336.48 547.26 L1337.84 547.32 L1339.21 547.38 L1340.58 547.43 L1341.94 547.49 L1343.31 547.54 L1344.68 547.59 L1346.04 547.64 L1347.41 547.69 L1348.78 547.74 L1350.15 547.78 L1351.51 547.83 L1352.88 547.87 L1354.25 547.91 L1355.61 547.95 L1356.98 547.99 L1358.35 548.03 L1359.71 548.07 L1361.08 548.11 L1362.45 548.14 L1363.81 548.17 L1365.18 548.21 L1366.55 548.24 L1367.92 548.27 L1369.28 548.30 L1370.65 548.33 L1372.02 548.36 L1373.38 548.39 L1374.75 548.41 L1376.12 548.44 L1377.48 548.46 L1378.85 548.49 L1380.22 548.51 L1381.59 548.53 L1382.95 548.56 L1384.32 548.58 L1385.69 548.60 L1387.05 548.62 L1388.42 548.64 L1389.79 548.66 L1391.15 548.68 L1392.52 548.70 L1393.89 548.71 L1395.25 548.73 L1396.62 548.75 L1397.99 548.76 L1399.36 548.78 L1400.72 548.79 L1402.09 548.81 L1403.46 548.82 L1404.82 548.84 L1406.19 548.85 L1407.56 548.86 L1408.92 548.88 L1410.29 548.89 L1411.66 548.90 L1413.03 548.91 L1414.39 548.92 L1415.76 548.94 L1417.13 548.95 L1418.49 548.96 L1419.86 548.97 L1421.23 548.98 L1422.59 548.99 L1423.96 549.00 L1425.33 549.00 L1426.69 549.01 L1428.06 549.02 L1429.43 549.03 L1430.80 549.04 L1432.16 549.04 L1433.53 549.05 L1434.90 549.06 L1436.26 549.07 L1437.63 549.07 L1439.00 549.08 L1440.36 549.09 L1441.73 549.09 L1443.10 549.10 L1444.47 549.10 L1445.83 549.11 L1447.20 549.12 L1448.57 549.12 L1449.93 549.13 L1451.30 549.13 L1456.75 549.15 L1462.19 549.17 L1467.64 549.18 L1473.09 549.20 L1478.53 549.21 L1483.98 549.22 L1489.43 549.23 L1494.87 549.23 L1500.32 549.24 L1505.77 549.25 L1511.22 549.25 L1516.66 549.26 L1522.11 549.26 L1527.56 549.27 L1533.00 549.27 L1538.45 549.27 L1543.90 549.28 L1549.34 549.28 L1554.79 549.28 L1560.24 549.28 L1565.68 549.29 L1571.13 549.29 L1576.58 549.29 L1582.02 549.29 L1587.47 549.29 L1592.92 549.29 L1598.37 549.29 L1603.81 549.29 L1609.26 549.29 L1614.71 549.30 L1620.15 549.30 L1625.60 549.30 L1631.05 549.30 L1636.49 549.30 L1641.94 549.30 L1647.39 549.30 L1652.83 549.30 L1658.28 549.30 L1663.73 549.30 L1669.17 549.30 L1674.62 549.30 L1680.07 549.30 L1685.52 549.30 L1690.96 549.30 L1696.41 549.30 L1701.86 549.30 L1707.30 549.30 L1712.75 549.30 L1718.20 549.30 L1723.64 549.30 L1729.09 549.30 L1734.54 549.30 L1739.98 549.30 L1745.43 549.30 L1750.88 549.30 L1756.32 549.30 L1761.77 549.30 L1767.22 549.30 L1772.67 549.30 L1778.11 549.30 L1783.56 549.30 L1789.01 549.30 L1794.45 549.30 L1799.90 549.30 L1805.35 549.30 L1810.79 549.30 L1816.24 549.30 L1821.69 549.30 L1827.13 549.30 L1832.58 549.30 L1838.03 549.30 L1843.47 549.30 L1848.92 549.30 L1854.37 549.30 L1859.82 549.30 L1865.26 549.30 L1870.71 549.30 L1876.16 549.30 L1881.60 549.30 L1887.05 549.30 L1892.50 549.30 L1897.94 549.30 L1903.39 549.30 L1908.84 549.30 L1914.28 549.30 L1919.73 549.30 L1925.18 549.30 L1930.62 549.30 L1936.07 549.30 L1941.52 549.30 L1946.97 549.30 L1952.41 549.30 L1957.86 549.30 L1963.31 549.30 L1968.75 549.30 L1974.20 549.30 L1979.65 549.30 L1985.09 549.30 L1990.54 549.30" stroke="#3f42a6" stroke-width="4.6"/>
<path d="M1097.26 181.28 L1098.62 192.05 L1099.99 202.50 L1101.36 212.65 L1102.73 222.49 L1104.09 232.05 L1105.46 241.33 L1106.83 250.34 L1108.19 259.09 L1109.56 267.58 L1110.93 275.82 L1112.29 283.82 L1113.66 291.59 L1115.03 299.12 L1116.40 306.44 L1117.76 313.55 L1119.13 320.44 L1120.50 327.14 L1121.86 333.64 L1123.23 339.95 L1124.60 346.07 L1125.96 352.02 L1127.33 357.79 L1128.70 363.39 L1130.06 368.83 L1131.43 374.11 L1132.80 379.23 L1134.17 384.21 L1135.53 389.04 L1136.90 393.72 L1138.27 398.28 L1139.63 402.69 L1141.00 406.98 L1142.37 411.15 L1143.73 415.19 L1145.10 419.11 L1146.47 422.92 L1147.84 426.62 L1149.20 430.20 L1150.57 433.69 L1151.94 437.07 L1153.30 440.35 L1154.67 443.54 L1156.04 446.63 L1157.40 449.64 L1158.77 452.55 L1160.14 455.38 L1161.51 458.13 L1162.87 460.80 L1164.24 463.39 L1165.61 465.90 L1166.97 468.34 L1168.34 470.71 L1169.71 473.01 L1171.07 475.24 L1172.44 477.41 L1173.81 479.51 L1175.17 481.55 L1176.54 483.53 L1177.91 485.46 L1179.28 487.32 L1180.64 489.14 L1182.01 490.90 L1183.38 492.61 L1184.74 494.26 L1186.11 495.87 L1187.48 497.44 L1188.84 498.95 L1190.21 500.43 L1191.58 501.86 L1192.95 503.24 L1194.31 504.59 L1195.68 505.90 L1197.05 507.17 L1198.41 508.40 L1199.78 509.60 L1201.15 510.76 L1202.51 511.89 L1203.88 512.98 L1205.25 514.04 L1206.61 515.07 L1207.98 516.08 L1209.35 517.05 L1210.72 517.99 L1212.08 518.91 L1213.45 519.80 L1214.82 520.66 L1216.18 521.50 L1217.55 522.31 L1218.92 523.10 L1220.28 523.87 L1221.65 524.61 L1223.02 525.33 L1224.39 526.03 L1225.75 526.71 L1227.12 527.38 L1228.49 528.02 L1229.85 528.64 L1231.22 529.24 L1232.59 529.83 L1233.95 530.40 L1235.32 530.95 L1236.69 531.49 L1238.05 532.01 L1239.42 532.52 L1240.79 533.01 L1242.16 533.48 L1243.52 533.95 L1244.89 534.40 L1246.26 534.83 L1247.62 535.25 L1248.99 535.67 L1250.36 536.06 L1251.72 536.45 L1253.09 536.83 L1254.46 537.19 L1255.83 537.55 L1257.19 537.89 L1258.56 538.22 L1259.93 538.55 L1261.29 538.86 L1262.66 539.17 L1264.03 539.46 L1265.39 539.75 L1266.76 540.03 L1268.13 540.30 L1269.49 540.57 L1270.86 540.82 L1272.23 541.07 L1273.60 541.31 L1274.96 541.54 L1276.33 541.77 L1277.70 541.99 L1279.06 542.20 L1280.43 542.41 L1281.80 542.61 L1283.16 542.81 L1284.53 543.00 L1285.90 543.18 L1287.27 543.36 L1288.63 543.54 L1290.00 543.70 L1291.37 543.87 L1292.73 544.03 L1294.10 544.18 L1295.47 544.33 L1296.83 544.48 L1298.20 544.62 L1299.57 544.75 L1300.93 544.89 L1302.30 545.02 L1303.67 545.14 L1305.04 545.26 L1306.40 545.38 L1307.77 545.50 L1309.14 545.61 L1310.50 545.72 L1311.87 545.82 L1313.24 545.92 L1314.60 546.02 L1315.97 546.12 L1317.34 546.21 L1318.71 546.30 L1320.07 546.39 L1321.44 546.47 L1322.81 546.56 L1324.17 546.64 L1325.54 546.71 L1326.91 546.79 L1328.27 546.86 L1329.64 546.93 L1331.01 547.00 L1332.37 547.07 L1333.74 547.14 L1335.11 547.20 L1336.48 547.26 L1337.84 547.32 L1339.21 547.38 L1340.58 547.43 L1341.94 547.49 L1343.31 547.54 L1344.68 547.59 L1346.04 547.64 L1347.41 547.69 L1348.78 547.74 L1350.15 547.78 L1351.51 547.83 L1352.88 547.87 L1354.25 547.91 L1355.61 547.95 L1356.98 547.99 L1358.35 548.03 L1359.71 548.07 L1361.08 548.11 L1362.45 548.14 L1363.81 548.17 L1365.18 548.21 L1366.55 548.24 L1367.92 548.27 L1369.28 548.30 L1370.65 548.33 L1372.02 548.36 L1373.38 548.39 L1374.75 548.41 L1376.12 548.44 L1377.48 548.46 L1378.85 548.49 L1380.22 548.51 L1381.59 548.53 L1382.95 548.56 L1384.32 548.58 L1385.69 548.60 L1387.05 548.62 L1388.42 548.64 L1389.79 548.66 L1391.15 548.68 L1392.52 548.70 L1393.89 548.71 L1395.25 548.73 L1396.62 548.75 L1397.99 548.76 L1399.36 548.78 L1400.72 548.79 L1402.09 548.81 L1403.46 548.82 L1404.82 548.84 L1406.19 548.85 L1407.56 548.86 L1408.92 548.88 L1410.29 548.89 L1411.66 548.90 L1413.03 548.91 L1414.39 548.92 L1415.76 548.94 L1417.13 548.95 L1418.49 548.96 L1419.86 548.97 L1421.23 548.98 L1422.59 548.99 L1423.96 549.00 L1425.33 549.00 L1426.69 549.01 L1428.06 549.02 L1429.43 549.03 L1430.80 549.04 L1432.16 549.04 L1433.53 549.05 L1434.90 549.06 L1436.26 549.07 L1437.63 549.07 L1439.00 549.08 L1440.36 549.09 L1441.73 549.09 L1443.10 549.10 L1444.47 549.10 L1445.83 549.11 L1447.20 549.12 L1448.57 549.12 L1449.93 549.13 L1451.30 549.13 L1456.75 549.15 L1462.19 549.17 L1467.64 549.18 L1473.09 549.20 L1478.53 549.21 L1483.98 549.22 L1489.43 549.23 L1494.87 549.23 L1500.32 549.24 L1505.77 549.25 L1511.22 549.25 L1516.66 549.26 L1522.11 549.26 L1527.56 549.27 L1533.00 549.27 L1538.45 549.27 L1543.90 549.28 L1549.34 549.28 L1554.79 549.28 L1560.24 549.28 L1565.68 549.29 L1571.13 549.29 L1576.58 549.29 L1582.02 549.29 L1587.47 549.29 L1592.92 549.29 L1598.37 549.29 L1603.81 549.29 L1609.26 549.29 L1614.71 549.30 L1620.15 549.30 L1625.60 549.30 L1631.05 549.30 L1636.49 549.30 L1641.94 549.30 L1647.39 549.30 L1652.83 549.30 L1658.28 549.30 L1663.73 549.30 L1669.17 549.30 L1674.62 549.30 L1680.07 549.30 L1685.52 549.30 L1690.96 549.30 L1696.41 549.30 L1701.86 549.30 L1707.30 549.30 L1712.75 549.30 L1718.20 549.30 L1723.64 549.30 L1729.09 549.30 L1734.54 549.30 L1739.98 549.30 L1745.43 549.30 L1750.88 549.30 L1756.32 549.30 L1761.77 549.30 L1767.22 549.30 L1772.67 549.30 L1778.11 549.30 L1783.56 549.30 L1789.01 549.30 L1794.45 549.30 L1799.90 549.30 L1805.35 549.30 L1810.79 549.30 L1816.24 549.30 L1821.69 549.30 L1827.13 549.30 L1832.58 549.30 L1838.03 549.30 L1843.47 549.30 L1848.92 549.30 L1854.37 549.30 L1859.82 549.30 L1865.26 549.30 L1870.71 549.30 L1876.16 549.30 L1881.60 549.30 L1887.05 549.30 L1892.50 549.30 L1897.94 549.30 L1903.39 549.30 L1908.84 549.30 L1914.28 549.30 L1919.73 549.30 L1925.18 549.30 L1930.62 549.30 L1936.07 549.30 L1941.52 549.30 L1946.97 549.30 L1952.41 549.30 L1957.86 549.30 L1963.31 549.30 L1968.75 549.30 L1974.20 549.30 L1979.65 549.30 L1985.09 549.30 L1990.54 549.30" stroke="#ee1f27" stroke-width="2.1"/>
<path d="M1097.26 52.65 L1098.62 59.77 L1099.99 66.77 L1101.36 73.68 L1102.73 80.48 L1104.09 87.19 L1105.46 93.79 L1106.83 100.31 L1108.19 106.72 L1109.56 113.05 L1110.93 119.28 L1112.29 125.42 L1113.66 131.47 L1115.03 137.43 L1116.40 143.31 L1117.76 149.10 L1119.13 154.80 L1120.50 160.43 L1121.86 165.97 L1123.23 171.43 L1124.60 176.81 L1125.96 182.11 L1127.33 187.34 L1128.70 192.49 L1130.06 197.57 L1131.43 202.57 L1132.80 207.50 L1134.17 212.35 L1135.53 217.14 L1136.90 221.86 L1138.27 226.51 L1139.63 231.09 L1141.00 235.60 L1142.37 240.05 L1143.73 244.44 L1145.10 248.76 L1146.47 253.02 L1147.84 257.21 L1149.20 261.35 L1150.57 265.43 L1151.94 269.44 L1153.30 273.40 L1154.67 277.31 L1156.04 281.15 L1157.40 284.94 L1158.77 288.67 L1160.14 292.35 L1161.51 295.98 L1162.87 299.56 L1164.24 303.08 L1165.61 306.55 L1166.97 309.97 L1168.34 313.35 L1169.71 316.67 L1171.07 319.95 L1172.44 323.17 L1173.81 326.36 L1175.17 329.49 L1176.54 332.58 L1177.91 335.63 L1179.28 338.63 L1180.64 341.59 L1182.01 344.51 L1183.38 347.38 L1184.74 350.21 L1186.11 353.00 L1187.48 355.76 L1188.84 358.47 L1190.21 361.14 L1191.58 363.77 L1192.95 366.37 L1194.31 368.93 L1195.68 371.45 L1197.05 373.94 L1198.41 376.39 L1199.78 378.80 L1201.15 381.18 L1202.51 383.53 L1203.88 385.84 L1205.25 388.12 L1206.61 390.37 L1207.98 392.58 L1209.35 394.76 L1210.72 396.91 L1212.08 399.03 L1213.45 401.12 L1214.82 403.18 L1216.18 405.21 L1217.55 407.21 L1218.92 409.18 L1220.28 411.13 L1221.65 413.04 L1223.02 414.93 L1224.39 416.80 L1225.75 418.63 L1227.12 420.44 L1228.49 422.22 L1229.85 423.98 L1231.22 425.71 L1232.59 427.42 L1233.95 429.10 L1235.32 430.76 L1236.69 432.40 L1238.05 434.01 L1239.42 435.60 L1240.79 437.16 L1242.16 438.71 L1243.52 440.23 L1244.89 441.73 L1246.26 443.21 L1247.62 444.67 L1248.99 446.10 L1250.36 447.52 L1251.72 448.92 L1253.09 450.29 L1254.46 451.65 L1255.83 452.99 L1257.19 454.30 L1258.56 455.60 L1259.93 456.89 L1261.29 458.15 L1262.66 459.39 L1264.03 460.62 L1265.39 461.83 L1266.76 463.02 L1268.13 464.20 L1269.49 465.36 L1270.86 466.50 L1272.23 467.63 L1273.60 468.74 L1274.96 469.83 L1276.33 470.91 L1277.70 471.98 L1279.06 473.03 L1280.43 474.06 L1281.80 475.08 L1283.16 476.09 L1284.53 477.08 L1285.90 478.05 L1287.27 479.02 L1288.63 479.97 L1290.00 480.90 L1291.37 481.83 L1292.73 482.74 L1294.10 483.63 L1295.47 484.52 L1296.83 485.39 L1298.20 486.25 L1299.57 487.10 L1300.93 487.93 L1302.30 488.76 L1303.67 489.57 L1305.04 490.37 L1306.40 491.16 L1307.77 491.94 L1309.14 492.71 L1310.50 493.47 L1311.87 494.21 L1313.24 494.95 L1314.60 495.67 L1315.97 496.39 L1317.34 497.09 L1318.71 497.79 L1320.07 498.48 L1321.44 499.15 L1322.81 499.82 L1324.17 500.48 L1325.54 501.12 L1326.91 501.76 L1328.27 502.39 L1329.64 503.02 L1331.01 503.63 L1332.37 504.23 L1333.74 504.83 L1335.11 505.42 L1336.48 506.00 L1337.84 506.57 L1339.21 507.13 L1340.58 507.69 L1341.94 508.23 L1343.31 508.77 L1344.68 509.31 L1346.04 509.83 L1347.41 510.35 L1348.78 510.86 L1350.15 511.36 L1351.51 511.86 L1352.88 512.35 L1354.25 512.83 L1355.61 513.31 L1356.98 513.78 L1358.35 514.24 L1359.71 514.70 L1361.08 515.15 L1362.45 515.60 L1363.81 516.04 L1365.18 516.47 L1366.55 516.89 L1367.92 517.31 L1369.28 517.73 L1370.65 518.14 L1372.02 518.54 L1373.38 518.94 L1374.75 519.33 L1376.12 519.72 L1377.48 520.10 L1378.85 520.48 L1380.22 520.85 L1381.59 521.21 L1382.95 521.58 L1384.32 521.93 L1385.69 522.28 L1387.05 522.63 L1388.42 522.97 L1389.79 523.31 L1391.15 523.64 L1392.52 523.97 L1393.89 524.29 L1395.25 524.61 L1396.62 524.93 L1397.99 525.24 L1399.36 525.54 L1400.72 525.85 L1402.09 526.14 L1403.46 526.44 L1404.82 526.73 L1406.19 527.01 L1407.56 527.30 L1408.92 527.57 L1410.29 527.85 L1411.66 528.12 L1413.03 528.39 L1414.39 528.65 L1415.76 528.91 L1417.13 529.17 L1418.49 529.42 L1419.86 529.67 L1421.23 529.92 L1422.59 530.16 L1423.96 530.40 L1425.33 530.63 L1426.69 530.87 L1428.06 531.10 L1429.43 531.32 L1430.80 531.55 L1432.16 531.77 L1433.53 531.99 L1434.90 532.20 L1436.26 532.42 L1437.63 532.62 L1439.00 532.83 L1440.36 533.04 L1441.73 533.24 L1443.10 533.43 L1444.47 533.63 L1445.83 533.82 L1447.20 534.01 L1448.57 534.20 L1449.93 534.39 L1451.30 534.57 L1456.75 535.28 L1462.19 535.95 L1467.64 536.58 L1473.09 537.18 L1478.53 537.76 L1483.98 538.30 L1489.43 538.81 L1494.87 539.30 L1500.32 539.76 L1505.77 540.20 L1511.22 540.62 L1516.66 541.02 L1522.11 541.40 L1527.56 541.76 L1533.00 542.10 L1538.45 542.42 L1543.90 542.73 L1549.34 543.02 L1554.79 543.30 L1560.24 543.56 L1565.68 543.82 L1571.13 544.06 L1576.58 544.28 L1582.02 544.50 L1587.47 544.71 L1592.92 544.90 L1598.37 545.09 L1603.81 545.27 L1609.26 545.44 L1614.71 545.60 L1620.15 545.76 L1625.60 545.91 L1631.05 546.05 L1636.49 546.18 L1641.94 546.31 L1647.39 546.43 L1652.83 546.55 L1658.28 546.66 L1663.73 546.77 L1669.17 546.87 L1674.62 546.96 L1680.07 547.06 L1685.52 547.15 L1690.96 547.23 L1696.41 547.31 L1701.86 547.39 L1707.30 547.46 L1712.75 547.53 L1718.20 547.60 L1723.64 547.67 L1729.09 547.73 L1734.54 547.79 L1739.98 547.85 L1745.43 547.90 L1750.88 547.95 L1756.32 548.00 L1761.77 548.05 L1767.22 548.10 L1772.67 548.14 L1778.11 548.18 L1783.56 548.23 L1789.01 548.26 L1794.45 548.30 L1799.90 548.34 L1805.35 548.37 L1810.79 548.41 L1816.24 548.44 L1821.69 548.47 L1827.13 548.50 L1832.58 548.53 L1838.03 548.55 L1843.47 548.58 L1848.92 548.60 L1854.37 548.63 L1859.82 548.65 L1865.26 548.67 L1870.71 548.70 L1876.16 548.72 L1881.60 548.74 L1887.05 548.76 L1892.50 548.77 L1897.94 548.79 L1903.39 548.81 L1908.84 548.83 L1914.28 548.84 L1919.73 548.86 L1925.18 548.87 L1930.62 548.89 L1936.07 548.90 L1941.52 548.91 L1946.97 548.93 L1952.41 548.94 L1957.86 548.95 L1963.31 548.96 L1968.75 548.97 L1974.20 548.98 L1979.65 548.99 L1985.09 549.00 L1990.54 549.01" stroke="#3b36a0" stroke-width="4.6"/>
<path d="M1097.26 52.65 L1098.62 59.77 L1099.99 66.77 L1101.36 73.68 L1102.73 80.48 L1104.09 87.19 L1105.46 93.79 L1106.83 100.31 L1108.19 106.72 L1109.56 113.05 L1110.93 119.28 L1112.29 125.42 L1113.66 131.47 L1115.03 137.43 L1116.40 143.31 L1117.76 149.10 L1119.13 154.80 L1120.50 160.43 L1121.86 165.97 L1123.23 171.43 L1124.60 176.81 L1125.96 182.11 L1127.33 187.34 L1128.70 192.49 L1130.06 197.57 L1131.43 202.57 L1132.80 207.50 L1134.17 212.35 L1135.53 217.14 L1136.90 221.86 L1138.27 226.51 L1139.63 231.09 L1141.00 235.60 L1142.37 240.05 L1143.73 244.44 L1145.10 248.76 L1146.47 253.02 L1147.84 257.21 L1149.20 261.35 L1150.57 265.43 L1151.94 269.44 L1153.30 273.40 L1154.67 277.31 L1156.04 281.15 L1157.40 284.94 L1158.77 288.67 L1160.14 292.35 L1161.51 295.98 L1162.87 299.56 L1164.24 303.08 L1165.61 306.55 L1166.97 309.97 L1168.34 313.35 L1169.71 316.67 L1171.07 319.95 L1172.44 323.17 L1173.81 326.36 L1175.17 329.49 L1176.54 332.58 L1177.91 335.63 L1179.28 338.63 L1180.64 341.59 L1182.01 344.51 L1183.38 347.38 L1184.74 350.21 L1186.11 353.00 L1187.48 355.76 L1188.84 358.47 L1190.21 361.14 L1191.58 363.77 L1192.95 366.37 L1194.31 368.93 L1195.68 371.45 L1197.05 373.94 L1198.41 376.39 L1199.78 378.80 L1201.15 381.18 L1202.51 383.53 L1203.88 385.84 L1205.25 388.12 L1206.61 390.37 L1207.98 392.58 L1209.35 394.76 L1210.72 396.91 L1212.08 399.03 L1213.45 401.12 L1214.82 403.18 L1216.18 405.21 L1217.55 407.21 L1218.92 409.18 L1220.28 411.13 L1221.65 413.04 L1223.02 414.93 L1224.39 416.80 L1225.75 418.63 L1227.12 420.44 L1228.49 422.22 L1229.85 423.98 L1231.22 425.71 L1232.59 427.42 L1233.95 429.10 L1235.32 430.76 L1236.69 432.40 L1238.05 434.01 L1239.42 435.60 L1240.79 437.16 L1242.16 438.71 L1243.52 440.23 L1244.89 441.73 L1246.26 443.21 L1247.62 444.67 L1248.99 446.10 L1250.36 447.52 L1251.72 448.92 L1253.09 450.29 L1254.46 451.65 L1255.83 452.99 L1257.19 454.30 L1258.56 455.60 L1259.93 456.89 L1261.29 458.15 L1262.66 459.39 L1264.03 460.62 L1265.39 461.83 L1266.76 463.02 L1268.13 464.20 L1269.49 465.36 L1270.86 466.50 L1272.23 467.63 L1273.60 468.74 L1274.96 469.83 L1276.33 470.91 L1277.70 471.98 L1279.06 473.03 L1280.43 474.06 L1281.80 475.08 L1283.16 476.09 L1284.53 477.08 L1285.90 478.05 L1287.27 479.02 L1288.63 479.97 L1290.00 480.90 L1291.37 481.83 L1292.73 482.74 L1294.10 483.63 L1295.47 484.52 L1296.83 485.39 L1298.20 486.25 L1299.57 487.10 L1300.93 487.93 L1302.30 488.76 L1303.67 489.57 L1305.04 490.37 L1306.40 491.16 L1307.77 491.94 L1309.14 492.71 L1310.50 493.47 L1311.87 494.21 L1313.24 494.95 L1314.60 495.67 L1315.97 496.39 L1317.34 497.09 L1318.71 497.79 L1320.07 498.48 L1321.44 499.15 L1322.81 499.82 L1324.17 500.48 L1325.54 501.12 L1326.91 501.76 L1328.27 502.39 L1329.64 503.02 L1331.01 503.63 L1332.37 504.23 L1333.74 504.83 L1335.11 505.42 L1336.48 506.00 L1337.84 506.57 L1339.21 507.13 L1340.58 507.69 L1341.94 508.23 L1343.31 508.77 L1344.68 509.31 L1346.04 509.83 L1347.41 510.35 L1348.78 510.86 L1350.15 511.36 L1351.51 511.86 L1352.88 512.35 L1354.25 512.83 L1355.61 513.31 L1356.98 513.78 L1358.35 514.24 L1359.71 514.70 L1361.08 515.15 L1362.45 515.60 L1363.81 516.04 L1365.18 516.47 L1366.55 516.89 L1367.92 517.31 L1369.28 517.73 L1370.65 518.14 L1372.02 518.54 L1373.38 518.94 L1374.75 519.33 L1376.12 519.72 L1377.48 520.10 L1378.85 520.48 L1380.22 520.85 L1381.59 521.21 L1382.95 521.58 L1384.32 521.93 L1385.69 522.28 L1387.05 522.63 L1388.42 522.97 L1389.79 523.31 L1391.15 523.64 L1392.52 523.97 L1393.89 524.29 L1395.25 524.61 L1396.62 524.93 L1397.99 525.24 L1399.36 525.54 L1400.72 525.85 L1402.09 526.14 L1403.46 526.44 L1404.82 526.73 L1406.19 527.01 L1407.56 527.30 L1408.92 527.57 L1410.29 527.85 L1411.66 528.12 L1413.03 528.39 L1414.39 528.65 L1415.76 528.91 L1417.13 529.17 L1418.49 529.42 L1419.86 529.67 L1421.23 529.92 L1422.59 530.16 L1423.96 530.40 L1425.33 530.63 L1426.69 530.87 L1428.06 531.10 L1429.43 531.32 L1430.80 531.55 L1432.16 531.77 L1433.53 531.99 L1434.90 532.20 L1436.26 532.42 L1437.63 532.62 L1439.00 532.83 L1440.36 533.04 L1441.73 533.24 L1443.10 533.43 L1444.47 533.63 L1445.83 533.82 L1447.20 534.01 L1448.57 534.20 L1449.93 534.39 L1451.30 534.57 L1456.75 535.28 L1462.19 535.95 L1467.64 536.58 L1473.09 537.18 L1478.53 537.76 L1483.98 538.30 L1489.43 538.81 L1494.87 539.30 L1500.32 539.76 L1505.77 540.20 L1511.22 540.62 L1516.66 541.02 L1522.11 541.40 L1527.56 541.76 L1533.00 542.10 L1538.45 542.42 L1543.90 542.73 L1549.34 543.02 L1554.79 543.30 L1560.24 543.56 L1565.68 543.82 L1571.13 544.06 L1576.58 544.28 L1582.02 544.50 L1587.47 544.71 L1592.92 544.90 L1598.37 545.09 L1603.81 545.27 L1609.26 545.44 L1614.71 545.60 L1620.15 545.76 L1625.60 545.91 L1631.05 546.05 L1636.49 546.18 L1641.94 546.31 L1647.39 546.43 L1652.83 546.55 L1658.28 546.66 L1663.73 546.77 L1669.17 546.87 L1674.62 546.96 L1680.07 547.06 L1685.52 547.15 L1690.96 547.23 L1696.41 547.31 L1701.86 547.39 L1707.30 547.46 L1712.75 547.53 L1718.20 547.60 L1723.64 547.67 L1729.09 547.73 L1734.54 547.79 L1739.98 547.85 L1745.43 547.90 L1750.88 547.95 L1756.32 548.00 L1761.77 548.05 L1767.22 548.10 L1772.67 548.14 L1778.11 548.18 L1783.56 548.23 L1789.01 548.26 L1794.45 548.30 L1799.90 548.34 L1805.35 548.37 L1810.79 548.41 L1816.24 548.44 L1821.69 548.47 L1827.13 548.50 L1832.58 548.53 L1838.03 548.55 L1843.47 548.58 L1848.92 548.60 L1854.37 548.63 L1859.82 548.65 L1865.26 548.67 L1870.71 548.70 L1876.16 548.72 L1881.60 548.74 L1887.05 548.76 L1892.50 548.77 L1897.94 548.79 L1903.39 548.81 L1908.84 548.83 L1914.28 548.84 L1919.73 548.86 L1925.18 548.87 L1930.62 548.89 L1936.07 548.90 L1941.52 548.91 L1946.97 548.93 L1952.41 548.94 L1957.86 548.95 L1963.31 548.96 L1968.75 548.97 L1974.20 548.98 L1979.65 548.99 L1985.09 549.00 L1990.54 549.01" stroke="#66cde0" stroke-width="2.1"/>
<path d="M1097.26 37.38 L1098.62 44.38 L1099.99 51.28 L1101.36 58.07 L1102.73 64.77 L1104.09 71.37 L1105.46 77.87 L1106.83 84.28 L1108.19 90.60 L1109.56 96.82 L1110.93 102.96 L1112.29 109.00 L1113.66 114.96 L1115.03 120.84 L1116.40 126.63 L1117.76 132.33 L1119.13 137.95 L1120.50 143.50 L1121.86 148.96 L1123.23 154.34 L1124.60 159.65 L1125.96 164.88 L1127.33 170.04 L1128.70 175.12 L1130.06 180.13 L1131.43 185.07 L1132.80 189.94 L1134.17 194.74 L1135.53 199.47 L1136.90 204.14 L1138.27 208.74 L1139.63 213.27 L1141.00 217.74 L1142.37 222.14 L1143.73 226.49 L1145.10 230.77 L1146.47 234.99 L1147.84 239.15 L1149.20 243.25 L1150.57 247.30 L1151.94 251.29 L1153.30 255.22 L1154.67 259.10 L1156.04 262.92 L1157.40 266.69 L1158.77 270.41 L1160.14 274.07 L1161.51 277.69 L1162.87 281.25 L1164.24 284.76 L1165.61 288.23 L1166.97 291.65 L1168.34 295.02 L1169.71 298.34 L1171.07 301.61 L1172.44 304.85 L1173.81 308.03 L1175.17 311.17 L1176.54 314.27 L1177.91 317.33 L1179.28 320.34 L1180.64 323.31 L1182.01 326.25 L1183.38 329.14 L1184.74 331.99 L1186.11 334.80 L1187.48 337.57 L1188.84 340.31 L1190.21 343.01 L1191.58 345.67 L1192.95 348.29 L1194.31 350.88 L1195.68 353.44 L1197.05 355.95 L1198.41 358.44 L1199.78 360.89 L1201.15 363.31 L1202.51 365.69 L1203.88 368.04 L1205.25 370.36 L1206.61 372.65 L1207.98 374.91 L1209.35 377.14 L1210.72 379.34 L1212.08 381.50 L1213.45 383.64 L1214.82 385.75 L1216.18 387.83 L1217.55 389.89 L1218.92 391.91 L1220.28 393.91 L1221.65 395.88 L1223.02 397.83 L1224.39 399.75 L1225.75 401.64 L1227.12 403.51 L1228.49 405.35 L1229.85 407.17 L1231.22 408.97 L1232.59 410.74 L1233.95 412.48 L1235.32 414.21 L1236.69 415.91 L1238.05 417.59 L1239.42 419.24 L1240.79 420.88 L1242.16 422.49 L1243.52 424.08 L1244.89 425.65 L1246.26 427.20 L1247.62 428.73 L1248.99 430.24 L1250.36 431.73 L1251.72 433.20 L1253.09 434.65 L1254.46 436.08 L1255.83 437.49 L1257.19 438.88 L1258.56 440.26 L1259.93 441.62 L1261.29 442.95 L1262.66 444.28 L1264.03 445.58 L1265.39 446.87 L1266.76 448.14 L1268.13 449.39 L1269.49 450.63 L1270.86 451.86 L1272.23 453.06 L1273.60 454.25 L1274.96 455.43 L1276.33 456.59 L1277.70 457.73 L1279.06 458.86 L1280.43 459.98 L1281.80 461.08 L1283.16 462.16 L1284.53 463.24 L1285.90 464.30 L1287.27 465.34 L1288.63 466.37 L1290.00 467.39 L1291.37 468.40 L1292.73 469.39 L1294.10 470.37 L1295.47 471.34 L1296.83 472.29 L1298.20 473.23 L1299.57 474.16 L1300.93 475.08 L1302.30 475.99 L1303.67 476.88 L1305.04 477.77 L1306.40 478.64 L1307.77 479.50 L1309.14 480.35 L1310.50 481.19 L1311.87 482.02 L1313.24 482.84 L1314.60 483.65 L1315.97 484.44 L1317.34 485.23 L1318.71 486.01 L1320.07 486.78 L1321.44 487.53 L1322.81 488.28 L1324.17 489.02 L1325.54 489.75 L1326.91 490.47 L1328.27 491.18 L1329.64 491.89 L1331.01 492.58 L1332.37 493.27 L1333.74 493.94 L1335.11 494.61 L1336.48 495.27 L1337.84 495.92 L1339.21 496.56 L1340.58 497.20 L1341.94 497.82 L1343.31 498.44 L1344.68 499.06 L1346.04 499.66 L1347.41 500.26 L1348.78 500.84 L1350.15 501.43 L1351.51 502.00 L1352.88 502.57 L1354.25 503.13 L1355.61 503.68 L1356.98 504.23 L1358.35 504.77 L1359.71 505.30 L1361.08 505.82 L1362.45 506.34 L1363.81 506.86 L1365.18 507.36 L1366.55 507.86 L1367.92 508.36 L1369.28 508.85 L1370.65 509.33 L1372.02 509.80 L1373.38 510.27 L1374.75 510.74 L1376.12 511.20 L1377.48 511.65 L1378.85 512.10 L1380.22 512.54 L1381.59 512.98 L1382.95 513.41 L1384.32 513.83 L1385.69 514.26 L1387.05 514.67 L1388.42 515.08 L1389.79 515.49 L1391.15 515.89 L1392.52 516.28 L1393.89 516.67 L1395.25 517.06 L1396.62 517.44 L1397.99 517.82 L1399.36 518.19 L1400.72 518.56 L1402.09 518.92 L1403.46 519.28 L1404.82 519.63 L1406.19 519.98 L1407.56 520.33 L1408.92 520.67 L1410.29 521.01 L1411.66 521.34 L1413.03 521.67 L1414.39 521.99 L1415.76 522.32 L1417.13 522.63 L1418.49 522.95 L1419.86 523.26 L1421.23 523.56 L1422.59 523.86 L1423.96 524.16 L1425.33 524.46 L1426.69 524.75 L1428.06 525.04 L1429.43 525.32 L1430.80 525.60 L1432.16 525.88 L1433.53 526.15 L1434.90 526.43 L1436.26 526.69 L1437.63 526.96 L1439.00 527.22 L1440.36 527.48 L1441.73 527.73 L1443.10 527.98 L1444.47 528.23 L1445.83 528.48 L1447.20 528.72 L1448.57 528.96 L1449.93 529.20 L1451.30 529.43 L1456.75 530.34 L1462.19 531.21 L1467.64 532.03 L1473.09 532.81 L1478.53 533.56 L1483.98 534.28 L1489.43 534.96 L1494.87 535.61 L1500.32 536.23 L1505.77 536.82 L1511.22 537.38 L1516.66 537.92 L1522.11 538.43 L1527.56 538.92 L1533.00 539.39 L1538.45 539.84 L1543.90 540.26 L1549.34 540.67 L1554.79 541.05 L1560.24 541.42 L1565.68 541.78 L1571.13 542.11 L1576.58 542.43 L1582.02 542.74 L1587.47 543.03 L1592.92 543.31 L1598.37 543.58 L1603.81 543.84 L1609.26 544.08 L1614.71 544.31 L1620.15 544.53 L1625.60 544.75 L1631.05 544.95 L1636.49 545.14 L1641.94 545.33 L1647.39 545.50 L1652.83 545.67 L1658.28 545.83 L1663.73 545.99 L1669.17 546.13 L1674.62 546.27 L1680.07 546.41 L1685.52 546.54 L1690.96 546.66 L1696.41 546.78 L1701.86 546.89 L1707.30 546.99 L1712.75 547.10 L1718.20 547.19 L1723.64 547.29 L1729.09 547.38 L1734.54 547.46 L1739.98 547.54 L1745.43 547.62 L1750.88 547.69 L1756.32 547.76 L1761.77 547.83 L1767.22 547.90 L1772.67 547.96 L1778.11 548.02 L1783.56 548.07 L1789.01 548.13 L1794.45 548.18 L1799.90 548.23 L1805.35 548.28 L1810.79 548.32 L1816.24 548.36 L1821.69 548.41 L1827.13 548.44 L1832.58 548.48 L1838.03 548.52 L1843.47 548.55 L1848.92 548.59 L1854.37 548.62 L1859.82 548.65 L1865.26 548.68 L1870.71 548.70 L1876.16 548.73 L1881.60 548.75 L1887.05 548.78 L1892.50 548.80 L1897.94 548.82 L1903.39 548.84 L1908.84 548.86 L1914.28 548.88 L1919.73 548.90 L1925.18 548.92 L1930.62 548.94 L1936.07 548.95 L1941.52 548.97 L1946.97 548.98 L1952.41 549.00 L1957.86 549.01 L1963.31 549.02 L1968.75 549.03 L1974.20 549.05 L1979.65 549.06 L1985.09 549.07 L1990.54 549.08" stroke="#3b36a0" stroke-width="4.6"/>
<path d="M1097.26 37.38 L1098.62 44.38 L1099.99 51.28 L1101.36 58.07 L1102.73 64.77 L1104.09 71.37 L1105.46 77.87 L1106.83 84.28 L1108.19 90.60 L1109.56 96.82 L1110.93 102.96 L1112.29 109.00 L1113.66 114.96 L1115.03 120.84 L1116.40 126.63 L1117.76 132.33 L1119.13 137.95 L1120.50 143.50 L1121.86 148.96 L1123.23 154.34 L1124.60 159.65 L1125.96 164.88 L1127.33 170.04 L1128.70 175.12 L1130.06 180.13 L1131.43 185.07 L1132.80 189.94 L1134.17 194.74 L1135.53 199.47 L1136.90 204.14 L1138.27 208.74 L1139.63 213.27 L1141.00 217.74 L1142.37 222.14 L1143.73 226.49 L1145.10 230.77 L1146.47 234.99 L1147.84 239.15 L1149.20 243.25 L1150.57 247.30 L1151.94 251.29 L1153.30 255.22 L1154.67 259.10 L1156.04 262.92 L1157.40 266.69 L1158.77 270.41 L1160.14 274.07 L1161.51 277.69 L1162.87 281.25 L1164.24 284.76 L1165.61 288.23 L1166.97 291.65 L1168.34 295.02 L1169.71 298.34 L1171.07 301.61 L1172.44 304.85 L1173.81 308.03 L1175.17 311.17 L1176.54 314.27 L1177.91 317.33 L1179.28 320.34 L1180.64 323.31 L1182.01 326.25 L1183.38 329.14 L1184.74 331.99 L1186.11 334.80 L1187.48 337.57 L1188.84 340.31 L1190.21 343.01 L1191.58 345.67 L1192.95 348.29 L1194.31 350.88 L1195.68 353.44 L1197.05 355.95 L1198.41 358.44 L1199.78 360.89 L1201.15 363.31 L1202.51 365.69 L1203.88 368.04 L1205.25 370.36 L1206.61 372.65 L1207.98 374.91 L1209.35 377.14 L1210.72 379.34 L1212.08 381.50 L1213.45 383.64 L1214.82 385.75 L1216.18 387.83 L1217.55 389.89 L1218.92 391.91 L1220.28 393.91 L1221.65 395.88 L1223.02 397.83 L1224.39 399.75 L1225.75 401.64 L1227.12 403.51 L1228.49 405.35 L1229.85 407.17 L1231.22 408.97 L1232.59 410.74 L1233.95 412.48 L1235.32 414.21 L1236.69 415.91 L1238.05 417.59 L1239.42 419.24 L1240.79 420.88 L1242.16 422.49 L1243.52 424.08 L1244.89 425.65 L1246.26 427.20 L1247.62 428.73 L1248.99 430.24 L1250.36 431.73 L1251.72 433.20 L1253.09 434.65 L1254.46 436.08 L1255.83 437.49 L1257.19 438.88 L1258.56 440.26 L1259.93 441.62 L1261.29 442.95 L1262.66 444.28 L1264.03 445.58 L1265.39 446.87 L1266.76 448.14 L1268.13 449.39 L1269.49 450.63 L1270.86 451.86 L1272.23 453.06 L1273.60 454.25 L1274.96 455.43 L1276.33 456.59 L1277.70 457.73 L1279.06 458.86 L1280.43 459.98 L1281.80 461.08 L1283.16 462.16 L1284.53 463.24 L1285.90 464.30 L1287.27 465.34 L1288.63 466.37 L1290.00 467.39 L1291.37 468.40 L1292.73 469.39 L1294.10 470.37 L1295.47 471.34 L1296.83 472.29 L1298.20 473.23 L1299.57 474.16 L1300.93 475.08 L1302.30 475.99 L1303.67 476.88 L1305.04 477.77 L1306.40 478.64 L1307.77 479.50 L1309.14 480.35 L1310.50 481.19 L1311.87 482.02 L1313.24 482.84 L1314.60 483.65 L1315.97 484.44 L1317.34 485.23 L1318.71 486.01 L1320.07 486.78 L1321.44 487.53 L1322.81 488.28 L1324.17 489.02 L1325.54 489.75 L1326.91 490.47 L1328.27 491.18 L1329.64 491.89 L1331.01 492.58 L1332.37 493.27 L1333.74 493.94 L1335.11 494.61 L1336.48 495.27 L1337.84 495.92 L1339.21 496.56 L1340.58 497.20 L1341.94 497.82 L1343.31 498.44 L1344.68 499.06 L1346.04 499.66 L1347.41 500.26 L1348.78 500.84 L1350.15 501.43 L1351.51 502.00 L1352.88 502.57 L1354.25 503.13 L1355.61 503.68 L1356.98 504.23 L1358.35 504.77 L1359.71 505.30 L1361.08 505.82 L1362.45 506.34 L1363.81 506.86 L1365.18 507.36 L1366.55 507.86 L1367.92 508.36 L1369.28 508.85 L1370.65 509.33 L1372.02 509.80 L1373.38 510.27 L1374.75 510.74 L1376.12 511.20 L1377.48 511.65 L1378.85 512.10 L1380.22 512.54 L1381.59 512.98 L1382.95 513.41 L1384.32 513.83 L1385.69 514.26 L1387.05 514.67 L1388.42 515.08 L1389.79 515.49 L1391.15 515.89 L1392.52 516.28 L1393.89 516.67 L1395.25 517.06 L1396.62 517.44 L1397.99 517.82 L1399.36 518.19 L1400.72 518.56 L1402.09 518.92 L1403.46 519.28 L1404.82 519.63 L1406.19 519.98 L1407.56 520.33 L1408.92 520.67 L1410.29 521.01 L1411.66 521.34 L1413.03 521.67 L1414.39 521.99 L1415.76 522.32 L1417.13 522.63 L1418.49 522.95 L1419.86 523.26 L1421.23 523.56 L1422.59 523.86 L1423.96 524.16 L1425.33 524.46 L1426.69 524.75 L1428.06 525.04 L1429.43 525.32 L1430.80 525.60 L1432.16 525.88 L1433.53 526.15 L1434.90 526.43 L1436.26 526.69 L1437.63 526.96 L1439.00 527.22 L1440.36 527.48 L1441.73 527.73 L1443.10 527.98 L1444.47 528.23 L1445.83 528.48 L1447.20 528.72 L1448.57 528.96 L1449.93 529.20 L1451.30 529.43 L1456.75 530.34 L1462.19 531.21 L1467.64 532.03 L1473.09 532.81 L1478.53 533.56 L1483.98 534.28 L1489.43 534.96 L1494.87 535.61 L1500.32 536.23 L1505.77 536.82 L1511.22 537.38 L1516.66 537.92 L1522.11 538.43 L1527.56 538.92 L1533.00 539.39 L1538.45 539.84 L1543.90 540.26 L1549.34 540.67 L1554.79 541.05 L1560.24 541.42 L1565.68 541.78 L1571.13 542.11 L1576.58 542.43 L1582.02 542.74 L1587.47 543.03 L1592.92 543.31 L1598.37 543.58 L1603.81 543.84 L1609.26 544.08 L1614.71 544.31 L1620.15 544.53 L1625.60 544.75 L1631.05 544.95 L1636.49 545.14 L1641.94 545.33 L1647.39 545.50 L1652.83 545.67 L1658.28 545.83 L1663.73 545.99 L1669.17 546.13 L1674.62 546.27 L1680.07 546.41 L1685.52 546.54 L1690.96 546.66 L1696.41 546.78 L1701.86 546.89 L1707.30 546.99 L1712.75 547.10 L1718.20 547.19 L1723.64 547.29 L1729.09 547.38 L1734.54 547.46 L1739.98 547.54 L1745.43 547.62 L1750.88 547.69 L1756.32 547.76 L1761.77 547.83 L1767.22 547.90 L1772.67 547.96 L1778.11 548.02 L1783.56 548.07 L1789.01 548.13 L1794.45 548.18 L1799.90 548.23 L1805.35 548.28 L1810.79 548.32 L1816.24 548.36 L1821.69 548.41 L1827.13 548.44 L1832.58 548.48 L1838.03 548.52 L1843.47 548.55 L1848.92 548.59 L1854.37 548.62 L1859.82 548.65 L1865.26 548.68 L1870.71 548.70 L1876.16 548.73 L1881.60 548.75 L1887.05 548.78 L1892.50 548.80 L1897.94 548.82 L1903.39 548.84 L1908.84 548.86 L1914.28 548.88 L1919.73 548.90 L1925.18 548.92 L1930.62 548.94 L1936.07 548.95 L1941.52 548.97 L1946.97 548.98 L1952.41 549.00 L1957.86 549.01 L1963.31 549.02 L1968.75 549.03 L1974.20 549.05 L1979.65 549.06 L1985.09 549.07 L1990.54 549.08" stroke="#66cde0" stroke-width="2.1"/>
<path d="M1097.26 24.25 L1098.62 31.05 L1099.99 37.74 L1101.36 44.34 L1102.73 50.84 L1104.09 57.25 L1105.46 63.57 L1106.83 69.80 L1108.19 75.94 L1109.56 81.99 L1110.93 87.96 L1112.29 93.84 L1113.66 99.64 L1115.03 105.35 L1116.40 110.99 L1117.76 116.55 L1119.13 122.03 L1120.50 127.43 L1121.86 132.75 L1123.23 138.01 L1124.60 143.18 L1125.96 148.29 L1127.33 153.33 L1128.70 158.29 L1130.06 163.19 L1131.43 168.02 L1132.80 172.78 L1134.17 177.48 L1135.53 182.11 L1136.90 186.68 L1138.27 191.18 L1139.63 195.63 L1141.00 200.01 L1142.37 204.33 L1143.73 208.60 L1145.10 212.80 L1146.47 216.95 L1147.84 221.05 L1149.20 225.09 L1150.57 229.07 L1151.94 233.00 L1153.30 236.88 L1154.67 240.70 L1156.04 244.47 L1157.40 248.20 L1158.77 251.87 L1160.14 255.49 L1161.51 259.07 L1162.87 262.60 L1164.24 266.08 L1165.61 269.51 L1166.97 272.90 L1168.34 276.25 L1169.71 279.55 L1171.07 282.81 L1172.44 286.02 L1173.81 289.19 L1175.17 292.32 L1176.54 295.41 L1177.91 298.46 L1179.28 301.47 L1180.64 304.44 L1182.01 307.37 L1183.38 310.27 L1184.74 313.12 L1186.11 315.94 L1187.48 318.72 L1188.84 321.47 L1190.21 324.18 L1191.58 326.86 L1192.95 329.50 L1194.31 332.10 L1195.68 334.68 L1197.05 337.22 L1198.41 339.73 L1199.78 342.21 L1201.15 344.65 L1202.51 347.06 L1203.88 349.45 L1205.25 351.80 L1206.61 354.12 L1207.98 356.42 L1209.35 358.68 L1210.72 360.92 L1212.08 363.13 L1213.45 365.31 L1214.82 367.46 L1216.18 369.58 L1217.55 371.68 L1218.92 373.76 L1220.28 375.80 L1221.65 377.82 L1223.02 379.82 L1224.39 381.79 L1225.75 383.74 L1227.12 385.66 L1228.49 387.56 L1229.85 389.43 L1231.22 391.28 L1232.59 393.11 L1233.95 394.92 L1235.32 396.70 L1236.69 398.47 L1238.05 400.21 L1239.42 401.92 L1240.79 403.62 L1242.16 405.30 L1243.52 406.96 L1244.89 408.59 L1246.26 410.21 L1247.62 411.80 L1248.99 413.38 L1250.36 414.94 L1251.72 416.48 L1253.09 418.00 L1254.46 419.50 L1255.83 420.98 L1257.19 422.45 L1258.56 423.90 L1259.93 425.33 L1261.29 426.74 L1262.66 428.14 L1264.03 429.52 L1265.39 430.88 L1266.76 432.23 L1268.13 433.56 L1269.49 434.87 L1270.86 436.17 L1272.23 437.45 L1273.60 438.72 L1274.96 439.97 L1276.33 441.21 L1277.70 442.43 L1279.06 443.64 L1280.43 444.83 L1281.80 446.01 L1283.16 447.18 L1284.53 448.33 L1285.90 449.47 L1287.27 450.60 L1288.63 451.71 L1290.00 452.81 L1291.37 453.89 L1292.73 454.96 L1294.10 456.02 L1295.47 457.07 L1296.83 458.11 L1298.20 459.13 L1299.57 460.14 L1300.93 461.14 L1302.30 462.13 L1303.67 463.10 L1305.04 464.07 L1306.40 465.02 L1307.77 465.96 L1309.14 466.89 L1310.50 467.81 L1311.87 468.72 L1313.24 469.62 L1314.60 470.51 L1315.97 471.39 L1317.34 472.26 L1318.71 473.12 L1320.07 473.96 L1321.44 474.80 L1322.81 475.63 L1324.17 476.45 L1325.54 477.26 L1326.91 478.06 L1328.27 478.85 L1329.64 479.63 L1331.01 480.41 L1332.37 481.17 L1333.74 481.92 L1335.11 482.67 L1336.48 483.41 L1337.84 484.14 L1339.21 484.86 L1340.58 485.57 L1341.94 486.28 L1343.31 486.97 L1344.68 487.66 L1346.04 488.34 L1347.41 489.02 L1348.78 489.68 L1350.15 490.34 L1351.51 490.99 L1352.88 491.63 L1354.25 492.27 L1355.61 492.90 L1356.98 493.52 L1358.35 494.13 L1359.71 494.74 L1361.08 495.34 L1362.45 495.93 L1363.81 496.52 L1365.18 497.10 L1366.55 497.67 L1367.92 498.24 L1369.28 498.80 L1370.65 499.35 L1372.02 499.90 L1373.38 500.44 L1374.75 500.98 L1376.12 501.51 L1377.48 502.03 L1378.85 502.55 L1380.22 503.06 L1381.59 503.57 L1382.95 504.07 L1384.32 504.57 L1385.69 505.06 L1387.05 505.54 L1388.42 506.02 L1389.79 506.49 L1391.15 506.96 L1392.52 507.42 L1393.89 507.88 L1395.25 508.33 L1396.62 508.78 L1397.99 509.22 L1399.36 509.66 L1400.72 510.09 L1402.09 510.52 L1403.46 510.94 L1404.82 511.36 L1406.19 511.77 L1407.56 512.18 L1408.92 512.59 L1410.29 512.99 L1411.66 513.38 L1413.03 513.77 L1414.39 514.16 L1415.76 514.54 L1417.13 514.92 L1418.49 515.29 L1419.86 515.66 L1421.23 516.03 L1422.59 516.39 L1423.96 516.75 L1425.33 517.10 L1426.69 517.45 L1428.06 517.80 L1429.43 518.14 L1430.80 518.48 L1432.16 518.81 L1433.53 519.14 L1434.90 519.47 L1436.26 519.79 L1437.63 520.11 L1439.00 520.43 L1440.36 520.74 L1441.73 521.05 L1443.10 521.36 L1444.47 521.66 L1445.83 521.96 L1447.20 522.25 L1448.57 522.55 L1449.93 522.84 L1451.30 523.12 L1456.75 524.23 L1462.19 525.30 L1467.64 526.31 L1473.09 527.29 L1478.53 528.22 L1483.98 529.11 L1489.43 529.96 L1494.87 530.78 L1500.32 531.56 L1505.77 532.31 L1511.22 533.03 L1516.66 533.71 L1522.11 534.37 L1527.56 535.00 L1533.00 535.60 L1538.45 536.18 L1543.90 536.73 L1549.34 537.26 L1554.79 537.76 L1560.24 538.25 L1565.68 538.71 L1571.13 539.16 L1576.58 539.59 L1582.02 539.99 L1587.47 540.38 L1592.92 540.76 L1598.37 541.12 L1603.81 541.46 L1609.26 541.79 L1614.71 542.10 L1620.15 542.41 L1625.60 542.69 L1631.05 542.97 L1636.49 543.24 L1641.94 543.49 L1647.39 543.73 L1652.83 543.97 L1658.28 544.19 L1663.73 544.40 L1669.17 544.61 L1674.62 544.81 L1680.07 544.99 L1685.52 545.17 L1690.96 545.35 L1696.41 545.51 L1701.86 545.67 L1707.30 545.82 L1712.75 545.97 L1718.20 546.11 L1723.64 546.24 L1729.09 546.37 L1734.54 546.49 L1739.98 546.61 L1745.43 546.72 L1750.88 546.83 L1756.32 546.93 L1761.77 547.03 L1767.22 547.13 L1772.67 547.22 L1778.11 547.30 L1783.56 547.39 L1789.01 547.47 L1794.45 547.54 L1799.90 547.62 L1805.35 547.69 L1810.79 547.76 L1816.24 547.82 L1821.69 547.88 L1827.13 547.94 L1832.58 548.00 L1838.03 548.05 L1843.47 548.10 L1848.92 548.15 L1854.37 548.20 L1859.82 548.25 L1865.26 548.29 L1870.71 548.33 L1876.16 548.37 L1881.60 548.41 L1887.05 548.45 L1892.50 548.49 L1897.94 548.52 L1903.39 548.55 L1908.84 548.58 L1914.28 548.61 L1919.73 548.64 L1925.18 548.67 L1930.62 548.70 L1936.07 548.72 L1941.52 548.75 L1946.97 548.77 L1952.41 548.79 L1957.86 548.81 L1963.31 548.83 L1968.75 548.85 L1974.20 548.87 L1979.65 548.89 L1985.09 548.91 L1990.54 548.92" stroke="#3b36a0" stroke-width="4.6"/>
<path d="M1097.26 24.25 L1098.62 31.05 L1099.99 37.74 L1101.36 44.34 L1102.73 50.84 L1104.09 57.25 L1105.46 63.57 L1106.83 69.80 L1108.19 75.94 L1109.56 81.99 L1110.93 87.96 L1112.29 93.84 L1113.66 99.64 L1115.03 105.35 L1116.40 110.99 L1117.76 116.55 L1119.13 122.03 L1120.50 127.43 L1121.86 132.75 L1123.23 138.01 L1124.60 143.18 L1125.96 148.29 L1127.33 153.33 L1128.70 158.29 L1130.06 163.19 L1131.43 168.02 L1132.80 172.78 L1134.17 177.48 L1135.53 182.11 L1136.90 186.68 L1138.27 191.18 L1139.63 195.63 L1141.00 200.01 L1142.37 204.33 L1143.73 208.60 L1145.10 212.80 L1146.47 216.95 L1147.84 221.05 L1149.20 225.09 L1150.57 229.07 L1151.94 233.00 L1153.30 236.88 L1154.67 240.70 L1156.04 244.47 L1157.40 248.20 L1158.77 251.87 L1160.14 255.49 L1161.51 259.07 L1162.87 262.60 L1164.24 266.08 L1165.61 269.51 L1166.97 272.90 L1168.34 276.25 L1169.71 279.55 L1171.07 282.81 L1172.44 286.02 L1173.81 289.19 L1175.17 292.32 L1176.54 295.41 L1177.91 298.46 L1179.28 301.47 L1180.64 304.44 L1182.01 307.37 L1183.38 310.27 L1184.74 313.12 L1186.11 315.94 L1187.48 318.72 L1188.84 321.47 L1190.21 324.18 L1191.58 326.86 L1192.95 329.50 L1194.31 332.10 L1195.68 334.68 L1197.05 337.22 L1198.41 339.73 L1199.78 342.21 L1201.15 344.65 L1202.51 347.06 L1203.88 349.45 L1205.25 351.80 L1206.61 354.12 L1207.98 356.42 L1209.35 358.68 L1210.72 360.92 L1212.08 363.13 L1213.45 365.31 L1214.82 367.46 L1216.18 369.58 L1217.55 371.68 L1218.92 373.76 L1220.28 375.80 L1221.65 377.82 L1223.02 379.82 L1224.39 381.79 L1225.75 383.74 L1227.12 385.66 L1228.49 387.56 L1229.85 389.43 L1231.22 391.28 L1232.59 393.11 L1233.95 394.92 L1235.32 396.70 L1236.69 398.47 L1238.05 400.21 L1239.42 401.92 L1240.79 403.62 L1242.16 405.30 L1243.52 406.96 L1244.89 408.59 L1246.26 410.21 L1247.62 411.80 L1248.99 413.38 L1250.36 414.94 L1251.72 416.48 L1253.09 418.00 L1254.46 419.50 L1255.83 420.98 L1257.19 422.45 L1258.56 423.90 L1259.93 425.33 L1261.29 426.74 L1262.66 428.14 L1264.03 429.52 L1265.39 430.88 L1266.76 432.23 L1268.13 433.56 L1269.49 434.87 L1270.86 436.17 L1272.23 437.45 L1273.60 438.72 L1274.96 439.97 L1276.33 441.21 L1277.70 442.43 L1279.06 443.64 L1280.43 444.83 L1281.80 446.01 L1283.16 447.18 L1284.53 448.33 L1285.90 449.47 L1287.27 450.60 L1288.63 451.71 L1290.00 452.81 L1291.37 453.89 L1292.73 454.96 L1294.10 456.02 L1295.47 457.07 L1296.83 458.11 L1298.20 459.13 L1299.57 460.14 L1300.93 461.14 L1302.30 462.13 L1303.67 463.10 L1305.04 464.07 L1306.40 465.02 L1307.77 465.96 L1309.14 466.89 L1310.50 467.81 L1311.87 468.72 L1313.24 469.62 L1314.60 470.51 L1315.97 471.39 L1317.34 472.26 L1318.71 473.12 L1320.07 473.96 L1321.44 474.80 L1322.81 475.63 L1324.17 476.45 L1325.54 477.26 L1326.91 478.06 L1328.27 478.85 L1329.64 479.63 L1331.01 480.41 L1332.37 481.17 L1333.74 481.92 L1335.11 482.67 L1336.48 483.41 L1337.84 484.14 L1339.21 484.86 L1340.58 485.57 L1341.94 486.28 L1343.31 486.97 L1344.68 487.66 L1346.04 488.34 L1347.41 489.02 L1348.78 489.68 L1350.15 490.34 L1351.51 490.99 L1352.88 491.63 L1354.25 492.27 L1355.61 492.90 L1356.98 493.52 L1358.35 494.13 L1359.71 494.74 L1361.08 495.34 L1362.45 495.93 L1363.81 496.52 L1365.18 497.10 L1366.55 497.67 L1367.92 498.24 L1369.28 498.80 L1370.65 499.35 L1372.02 499.90 L1373.38 500.44 L1374.75 500.98 L1376.12 501.51 L1377.48 502.03 L1378.85 502.55 L1380.22 503.06 L1381.59 503.57 L1382.95 504.07 L1384.32 504.57 L1385.69 505.06 L1387.05 505.54 L1388.42 506.02 L1389.79 506.49 L1391.15 506.96 L1392.52 507.42 L1393.89 507.88 L1395.25 508.33 L1396.62 508.78 L1397.99 509.22 L1399.36 509.66 L1400.72 510.09 L1402.09 510.52 L1403.46 510.94 L1404.82 511.36 L1406.19 511.77 L1407.56 512.18 L1408.92 512.59 L1410.29 512.99 L1411.66 513.38 L1413.03 513.77 L1414.39 514.16 L1415.76 514.54 L1417.13 514.92 L1418.49 515.29 L1419.86 515.66 L1421.23 516.03 L1422.59 516.39 L1423.96 516.75 L1425.33 517.10 L1426.69 517.45 L1428.06 517.80 L1429.43 518.14 L1430.80 518.48 L1432.16 518.81 L1433.53 519.14 L1434.90 519.47 L1436.26 519.79 L1437.63 520.11 L1439.00 520.43 L1440.36 520.74 L1441.73 521.05 L1443.10 521.36 L1444.47 521.66 L1445.83 521.96 L1447.20 522.25 L1448.57 522.55 L1449.93 522.84 L1451.30 523.12 L1456.75 524.23 L1462.19 525.30 L1467.64 526.31 L1473.09 527.29 L1478.53 528.22 L1483.98 529.11 L1489.43 529.96 L1494.87 530.78 L1500.32 531.56 L1505.77 532.31 L1511.22 533.03 L1516.66 533.71 L1522.11 534.37 L1527.56 535.00 L1533.00 535.60 L1538.45 536.18 L1543.90 536.73 L1549.34 537.26 L1554.79 537.76 L1560.24 538.25 L1565.68 538.71 L1571.13 539.16 L1576.58 539.59 L1582.02 539.99 L1587.47 540.38 L1592.92 540.76 L1598.37 541.12 L1603.81 541.46 L1609.26 541.79 L1614.71 542.10 L1620.15 542.41 L1625.60 542.69 L1631.05 542.97 L1636.49 543.24 L1641.94 543.49 L1647.39 543.73 L1652.83 543.97 L1658.28 544.19 L1663.73 544.40 L1669.17 544.61 L1674.62 544.81 L1680.07 544.99 L1685.52 545.17 L1690.96 545.35 L1696.41 545.51 L1701.86 545.67 L1707.30 545.82 L1712.75 545.97 L1718.20 546.11 L1723.64 546.24 L1729.09 546.37 L1734.54 546.49 L1739.98 546.61 L1745.43 546.72 L1750.88 546.83 L1756.32 546.93 L1761.77 547.03 L1767.22 547.13 L1772.67 547.22 L1778.11 547.30 L1783.56 547.39 L1789.01 547.47 L1794.45 547.54 L1799.90 547.62 L1805.35 547.69 L1810.79 547.76 L1816.24 547.82 L1821.69 547.88 L1827.13 547.94 L1832.58 548.00 L1838.03 548.05 L1843.47 548.10 L1848.92 548.15 L1854.37 548.20 L1859.82 548.25 L1865.26 548.29 L1870.71 548.33 L1876.16 548.37 L1881.60 548.41 L1887.05 548.45 L1892.50 548.49 L1897.94 548.52 L1903.39 548.55 L1908.84 548.58 L1914.28 548.61 L1919.73 548.64 L1925.18 548.67 L1930.62 548.70 L1936.07 548.72 L1941.52 548.75 L1946.97 548.77 L1952.41 548.79 L1957.86 548.81 L1963.31 548.83 L1968.75 548.85 L1974.20 548.87 L1979.65 548.89 L1985.09 548.91 L1990.54 548.92" stroke="#66cde0" stroke-width="2.1"/>
</g>
<rect x="78.00" y="2.50" width="884.20" height="546.70" fill="none" stroke="#000" stroke-width="2.2"/>
<path d="M95.60 549.20 v-10.40 M95.60 2.50 v10.40 M265.45 549.20 v-10.40 M265.45 2.50 v10.40 M435.30 549.20 v-10.40 M435.30 2.50 v10.40 M605.15 549.20 v-10.40 M605.15 2.50 v10.40 M775.00 549.20 v-10.40 M775.00 2.50 v10.40 M944.85 549.20 v-10.40 M944.85 2.50 v10.40 M129.57 549.20 v-6.30 M129.57 2.50 v6.30 M163.54 549.20 v-6.30 M163.54 2.50 v6.30 M197.51 549.20 v-6.30 M197.51 2.50 v6.30 M231.48 549.20 v-6.30 M231.48 2.50 v6.30 M299.42 549.20 v-6.30 M299.42 2.50 v6.30 M333.39 549.20 v-6.30 M333.39 2.50 v6.30 M367.36 549.20 v-6.30 M367.36 2.50 v6.30 M401.33 549.20 v-6.30 M401.33 2.50 v6.30 M469.27 549.20 v-6.30 M469.27 2.50 v6.30 M503.24 549.20 v-6.30 M503.24 2.50 v6.30 M537.21 549.20 v-6.30 M537.21 2.50 v6.30 M571.18 549.20 v-6.30 M571.18 2.50 v6.30 M639.12 549.20 v-6.30 M639.12 2.50 v6.30 M673.09 549.20 v-6.30 M673.09 2.50 v6.30 M707.06 549.20 v-6.30 M707.06 2.50 v6.30 M741.03 549.20 v-6.30 M741.03 2.50 v6.30 M808.97 549.20 v-6.30 M808.97 2.50 v6.30 M842.94 549.20 v-6.30 M842.94 2.50 v6.30 M876.91 549.20 v-6.30 M876.91 2.50 v6.30 M910.88 549.20 v-6.30 M910.88 2.50 v6.30 M78.00 532.60 h10.40 M962.20 532.60 h-10.40 M78.00 448.20 h10.40 M962.20 448.20 h-10.40 M78.00 363.80 h10.40 M962.20 363.80 h-10.40 M78.00 279.40 h10.40 M962.20 279.40 h-10.40 M78.00 195.00 h10.40 M962.20 195.00 h-10.40 M78.00 110.60 h10.40 M962.20 110.60 h-10.40 M78.00 26.20 h10.40 M962.20 26.20 h-10.40 M78.00 515.72 h6.30 M962.20 515.72 h-6.30 M78.00 498.84 h6.30 M962.20 498.84 h-6.30 M78.00 481.96 h6.30 M962.20 481.96 h-6.30 M78.00 465.08 h6.30 M962.20 465.08 h-6.30 M78.00 431.32 h6.30 M962.20 431.32 h-6.30 M78.00 414.44 h6.30 M962.20 414.44 h-6.30 M78.00 397.56 h6.30 M962.20 397.56 h-6.30 M78.00 380.68 h6.30 M962.20 380.68 h-6.30 M78.00 346.92 h6.30 M962.20 346.92 h-6.30 M78.00 330.04 h6.30 M962.20 330.04 h-6.30 M78.00 313.16 h6.30 M962.20 313.16 h-6.30 M78.00 296.28 h6.30 M962.20 296.28 h-6.30 M78.00 262.52 h6.30 M962.20 262.52 h-6.30 M78.00 245.64 h6.30 M962.20 245.64 h-6.30 M78.00 228.76 h6.30 M962.20 228.76 h-6.30 M78.00 211.88 h6.30 M962.20 211.88 h-6.30 M78.00 178.12 h6.30 M962.20 178.12 h-6.30 M78.00 161.24 h6.30 M962.20 161.24 h-6.30 M78.00 144.36 h6.30 M962.20 144.36 h-6.30 M78.00 127.48 h6.30 M962.20 127.48 h-6.30 M78.00 93.72 h6.30 M962.20 93.72 h-6.30 M78.00 76.84 h6.30 M962.20 76.84 h-6.30 M78.00 59.96 h6.30 M962.20 59.96 h-6.30 M78.00 43.08 h6.30 M962.20 43.08 h-6.30 M78.00 9.32 h6.30 M962.20 9.32 h-6.30" fill="none" stroke="#000" stroke-width="1.9"/>
<rect x="1097.70" y="2.70" width="884.00" height="546.10" fill="none" stroke="#000" stroke-width="2.2"/>
<path d="M1318.70 548.80 v-10.40 M1318.70 2.70 v10.40 M1539.70 548.80 v-10.40 M1539.70 2.70 v10.40 M1760.70 548.80 v-10.40 M1760.70 2.70 v10.40 M1141.90 548.80 v-6.30 M1141.90 2.70 v6.30 M1186.10 548.80 v-6.30 M1186.10 2.70 v6.30 M1230.30 548.80 v-6.30 M1230.30 2.70 v6.30 M1274.50 548.80 v-6.30 M1274.50 2.70 v6.30 M1362.90 548.80 v-6.30 M1362.90 2.70 v6.30 M1407.10 548.80 v-6.30 M1407.10 2.70 v6.30 M1451.30 548.80 v-6.30 M1451.30 2.70 v6.30 M1495.50 548.80 v-6.30 M1495.50 2.70 v6.30 M1583.90 548.80 v-6.30 M1583.90 2.70 v6.30 M1628.10 548.80 v-6.30 M1628.10 2.70 v6.30 M1672.30 548.80 v-6.30 M1672.30 2.70 v6.30 M1716.50 548.80 v-6.30 M1716.50 2.70 v6.30 M1804.90 548.80 v-6.30 M1804.90 2.70 v6.30 M1849.10 548.80 v-6.30 M1849.10 2.70 v6.30 M1893.30 548.80 v-6.30 M1893.30 2.70 v6.30 M1937.50 548.80 v-6.30 M1937.50 2.70 v6.30 M1097.70 476.40 h10.40 M1981.70 476.40 h-10.40 M1097.70 403.50 h10.40 M1981.70 403.50 h-10.40 M1097.70 330.60 h10.40 M1981.70 330.60 h-10.40 M1097.70 257.70 h10.40 M1981.70 257.70 h-10.40 M1097.70 184.80 h10.40 M1981.70 184.80 h-10.40 M1097.70 111.90 h10.40 M1981.70 111.90 h-10.40 M1097.70 39.00 h10.40 M1981.70 39.00 h-10.40 M1097.70 534.72 h6.30 M1981.70 534.72 h-6.30 M1097.70 520.14 h6.30 M1981.70 520.14 h-6.30 M1097.70 505.56 h6.30 M1981.70 505.56 h-6.30 M1097.70 490.98 h6.30 M1981.70 490.98 h-6.30 M1097.70 461.82 h6.30 M1981.70 461.82 h-6.30 M1097.70 447.24 h6.30 M1981.70 447.24 h-6.30 M1097.70 432.66 h6.30 M1981.70 432.66 h-6.30 M1097.70 418.08 h6.30 M1981.70 418.08 h-6.30 M1097.70 388.92 h6.30 M1981.70 388.92 h-6.30 M1097.70 374.34 h6.30 M1981.70 374.34 h-6.30 M1097.70 359.76 h6.30 M1981.70 359.76 h-6.30 M1097.70 345.18 h6.30 M1981.70 345.18 h-6.30 M1097.70 316.02 h6.30 M1981.70 316.02 h-6.30 M1097.70 301.44 h6.30 M1981.70 301.44 h-6.30 M1097.70 286.86 h6.30 M1981.70 286.86 h-6.30 M1097.70 272.28 h6.30 M1981.70 272.28 h-6.30 M1097.70 243.12 h6.30 M1981.70 243.12 h-6.30 M1097.70 228.54 h6.30 M1981.70 228.54 h-6.30 M1097.70 213.96 h6.30 M1981.70 213.96 h-6.30 M1097.70 199.38 h6.30 M1981.70 199.38 h-6.30 M1097.70 170.22 h6.30 M1981.70 170.22 h-6.30 M1097.70 155.64 h6.30 M1981.70 155.64 h-6.30 M1097.70 141.06 h6.30 M1981.70 141.06 h-6.30 M1097.70 126.48 h6.30 M1981.70 126.48 h-6.30 M1097.70 97.32 h6.30 M1981.70 97.32 h-6.30 M1097.70 82.74 h6.30 M1981.70 82.74 h-6.30 M1097.70 68.16 h6.30 M1981.70 68.16 h-6.30 M1097.70 53.58 h6.30 M1981.70 53.58 h-6.30 M1097.70 24.42 h6.30 M1981.70 24.42 h-6.30 M1097.70 9.84 h6.30 M1981.70 9.84 h-6.30" fill="none" stroke="#000" stroke-width="1.9"/>
<g font-family='"Liberation Serif", "DejaVu Serif", serif' font-size="24.6" fill="#000" stroke="#000" stroke-width="0.35">
<text x="69.6" y="541.0" text-anchor="end">0.0</text>
<text x="69.6" y="456.6" text-anchor="end">0.1</text>
<text x="69.6" y="372.2" text-anchor="end">0.2</text>
<text x="69.6" y="287.8" text-anchor="end">0.3</text>
<text x="69.6" y="203.4" text-anchor="end">0.4</text>
<text x="69.6" y="119.0" text-anchor="end">0.5</text>
<text x="69.6" y="34.6" text-anchor="end">0.6</text>
<text x="95.9" y="579.7" text-anchor="middle">0</text>
<text x="265.8" y="579.7" text-anchor="middle">1</text>
<text x="435.6" y="579.7" text-anchor="middle">2</text>
<text x="605.4" y="579.7" text-anchor="middle">3</text>
<text x="775.3" y="579.7" text-anchor="middle">4</text>
<text x="945.1" y="579.7" text-anchor="middle">5</text>
<text x="1089.2" y="557.5" text-anchor="end">0.0</text>
<text x="1089.2" y="484.6" text-anchor="end">0.1</text>
<text x="1089.2" y="411.7" text-anchor="end">0.2</text>
<text x="1089.2" y="338.8" text-anchor="end">0.3</text>
<text x="1089.2" y="265.9" text-anchor="end">0.4</text>
<text x="1089.2" y="193.0" text-anchor="end">0.5</text>
<text x="1089.2" y="120.1" text-anchor="end">0.6</text>
<text x="1089.2" y="47.2" text-anchor="end">0.7</text>
<text x="1097.4" y="579.6" text-anchor="middle">0.0</text>
<text x="1318.4" y="579.6" text-anchor="middle">0.5</text>
<text x="1539.4" y="579.6" text-anchor="middle">1.0</text>
<text x="1760.4" y="579.6" text-anchor="middle">1.5</text>
<text x="1981.4" y="579.6" text-anchor="middle">2.0</text>
</g>
<g font-family='"Liberation Serif", "DejaVu Serif", serif' fill="#000" stroke="#000" stroke-width="0.4">
<text x="520.3" y="623.6" font-size="25.5" font-style="italic" text-anchor="middle">η</text>
<text x="1539.5" y="623.6" font-size="25.5" font-style="italic" text-anchor="middle">η</text>
<text transform="translate(17.3 276.2) rotate(-90)" font-size="25" text-anchor="middle">f′(<tspan font-style="italic">η</tspan>)</text>
</g>
<g font-family='"Liberation Serif", "DejaVu Serif", serif' fill="#000" stroke="#000" stroke-width="0.4">
<text transform="translate(246.85 97.00) scale(1.0474 1.000)" font-size="33">M</text>
<text transform="translate(276.34 99.60) scale(1.1623 1.000)" font-size="33">=</text>
<text x="297.30" y="97.00" font-size="33">0.0, 2.0, 5.0</text>
<text transform="translate(1249.95 291.10) scale(1.0511 1.000)" font-size="33">M</text>
<text transform="translate(1279.74 293.70) scale(1.1623 1.000)" font-size="33">=</text>
<text x="1300.70" y="291.10" font-size="33">0.0, 2.0, 5.0</text>
<text transform="translate(523.93 364.50) scale(1.2200 1.000)" font-size="33" font-style="italic">γ</text>
<text transform="translate(540.96 367.10) scale(1.1494 1.000)" font-size="33">=</text>
<text x="563.40" y="364.50" font-size="33">1.2,</text>
<text transform="translate(618.91 364.50) scale(1.1007 1.000)" font-size="33">λ</text>
<text x="637.00" y="369.50" font-size="21.5">1</text>
<text transform="translate(649.20 367.10) scale(1.1234 1.000)" font-size="33">=</text>
<text x="669.70" y="364.50" font-size="33">0.2,</text>
<text transform="translate(727.03 364.50) scale(1.0706 1.000)" font-size="33">Γ</text>
<text transform="translate(746.92 367.10) scale(1.1104 1.000)" font-size="33">=</text>
<text x="769.20" y="364.50" font-size="33">1.0,</text>
<text transform="translate(825.78 364.50) scale(1.1538 1.000)" font-size="33" font-style="italic">β</text>
<text transform="translate(844.81 367.10) scale(1.1169 1.000)" font-size="33">=</text>
<text x="865.30" y="364.50" font-size="33">2.5</text>
<text transform="translate(527.71 430.70) scale(1.1890 1.000)" font-size="33" font-style="italic">φ</text>
<text x="547.60" y="435.70" font-size="21.5">1</text>
<text transform="translate(559.75 433.30) scale(1.1558 1.000)" font-size="33">=</text>
<text x="581.30" y="430.70" font-size="33">0.02,</text>
<text transform="translate(654.05 430.70) scale(1.1524 1.000)" font-size="33" font-style="italic">φ</text>
<text x="673.30" y="435.70" font-size="21.5">2</text>
<text transform="translate(685.94 433.30) scale(1.1623 1.000)" font-size="33">=</text>
<text x="707.30" y="430.70" font-size="33">0.015,</text>
<text transform="translate(798.22 430.70) scale(1.1474 1.000)" font-size="33" font-style="italic">ρ</text>
<text transform="translate(818.04 435.70) scale(1.2200 1.000)" font-size="21.5" font-style="italic">f</text>
<text transform="translate(831.74 433.30) scale(1.1623 1.000)" font-size="33">=</text>
<text x="853.00" y="430.70" font-size="33">900</text>
<text transform="translate(533.91 495.60) scale(1.0488 1.000)" font-size="33" font-style="italic">C</text>
<text transform="translate(554.83 500.60) scale(1.2200 1.000)" font-size="21.5" font-style="italic">r</text>
<text transform="translate(566.10 498.20) scale(1.1234 1.000)" font-size="33">=</text>
<text x="586.60" y="495.60" font-size="33">0.2,</text>
<text transform="translate(645.62 495.60) scale(1.1474 1.000)" font-size="33" font-style="italic">ρ</text>
<text x="663.30" y="500.60" font-size="21.5">1</text>
<text transform="translate(675.77 498.20) scale(1.1429 1.000)" font-size="33">=</text>
<text x="697.00" y="495.60" font-size="33">8933,</text>
<text transform="translate(779.82 495.60) scale(1.1474 1.000)" font-size="33" font-style="italic">ρ</text>
<text x="797.30" y="500.60" font-size="21.5">2</text>
<text transform="translate(810.17 498.20) scale(1.1429 1.000)" font-size="33">=</text>
<text x="831.20" y="495.60" font-size="33">3970</text>
<text transform="translate(1627.61 354.70) scale(1.0488 1.000)" font-size="33" font-style="italic">C</text>
<text transform="translate(1648.53 359.70) scale(1.2200 1.000)" font-size="21.5" font-style="italic">r</text>
<text transform="translate(1659.80 357.30) scale(1.1234 1.000)" font-size="33">=</text>
<text x="1680.60" y="354.70" font-size="33">0.2,</text>
<text transform="translate(1737.42 354.70) scale(1.0940 1.000)" font-size="33">λ</text>
<text x="1755.10" y="359.70" font-size="21.5">2</text>
<text transform="translate(1767.56 357.30) scale(1.1494 1.000)" font-size="33">=</text>
<text x="1788.60" y="354.70" font-size="33">0.1,</text>
<text transform="translate(1845.25 354.70) scale(1.0537 1.000)" font-size="33">λ</text>
<text x="1862.60" y="359.70" font-size="21.5">3</text>
<text transform="translate(1875.81 357.30) scale(1.1169 1.000)" font-size="33">=</text>
<text x="1896.20" y="354.70" font-size="33">0.1</text>
<text x="1686.20" y="414.50" font-size="33">Pr</text>
<text transform="translate(1715.88 417.10) scale(1.1364 1.000)" font-size="33">=</text>
<text x="1736.70" y="414.50" font-size="33">4.5,</text>
<text transform="translate(1793.68 414.50) scale(1.0238 1.000)" font-size="33">R</text>
<text transform="translate(1816.49 417.10) scale(1.1299 1.000)" font-size="33">=</text>
<text x="1838.10" y="414.50" font-size="33">1.0</text>
<text transform="translate(1733.26 470.70) scale(1.0870 1.000)" font-size="33" font-style="italic">θ</text>
<text transform="translate(1749.74 470.70) scale(0.9048 1.000)" font-size="33">(</text>
<text transform="translate(1759.10 470.70) scale(0.9203 1.000)" font-size="33" font-style="italic">η</text>
<text transform="translate(1775.73 470.70) scale(0.9762 1.000)" font-size="33">)</text>
<text transform="translate(1729.64 521.60) scale(1.0594 1.000)" font-size="33">H</text>
<text transform="translate(1753.70 521.60) scale(0.8690 1.000)" font-size="33">(</text>
<text transform="translate(1763.40 521.60) scale(0.9130 1.000)" font-size="33" font-style="italic">η</text>
<text transform="translate(1779.56 521.60) scale(1.0357 1.000)" font-size="33">)</text>
</g>
<path d="M1802.8 461.5 H1917.4" stroke="#e8232a" stroke-width="4.4" fill="none"/>
<path d="M1802.8 512.5 H1917.4" stroke="#63c7dd" stroke-width="4.4" fill="none"/>
<path d="M214.50 110.00 L110.21 283.79" stroke="#5fc6dc" stroke-width="1.90" fill="none"/><path d="M97.60 304.80 L105.41 278.58 L117.07 285.58 Z" fill="#5fc6dc"/>
<path d="M1128.20 482.90 L1218.23 322.08" stroke="#3953a4" stroke-width="2.50" fill="none"/><path d="M1230.20 300.70 L1223.19 327.14 L1211.32 320.50 Z" fill="#3953a4"/>
<g font-family='"Liberation Serif", "DejaVu Serif", serif' fill="#000">
<text transform="translate(278.80 685.80) scale(1.0511 1.000)" font-size="46">(a)</text>
<text transform="translate(348.18 685.80) scale(1.0708 1.000)" font-size="46">Impact</text>
<text transform="translate(501.01 685.80) scale(1.0493 1.000)" font-size="46">of</text>
<text transform="translate(555.75 685.80) scale(1.0978 1.000)" font-size="46" font-style="italic">M</text>
<text transform="translate(615.40 685.80) scale(1.0575 1.000)" font-size="46">on</text>
<text transform="translate(681.80 685.80) scale(1.2200 1.000)" font-size="46" font-style="italic">f</text>
<text transform="translate(704.78 685.80) scale(1.1818 1.000)" font-size="46">′</text>
<text transform="translate(719.72 687.00) scale(0.8898 1.070)" font-size="46">(</text>
<text transform="translate(733.70 685.80) scale(1.1244 1.000)" font-size="46" font-style="italic">η</text>
<text transform="translate(759.35 687.00) scale(0.8983 1.070)" font-size="46">)</text>
<text transform="translate(1219.79 686.00) scale(1.0544 1.000)" font-size="46">(b)</text>
<text transform="translate(1292.08 686.00) scale(1.0732 1.000)" font-size="46">Impact</text>
<text transform="translate(1444.92 686.00) scale(1.0466 1.000)" font-size="46">of</text>
<text transform="translate(1499.75 686.00) scale(1.0978 1.000)" font-size="46" font-style="italic">M</text>
<text transform="translate(1559.30 686.00) scale(1.0575 1.000)" font-size="46">on</text>
<text transform="translate(1624.83 686.00) scale(1.0587 1.000)" font-size="46" font-style="italic">H</text>
<text transform="translate(1665.79 687.20) scale(0.8559 1.070)" font-size="46">(</text>
<text transform="translate(1679.99 686.00) scale(1.1295 1.000)" font-size="46" font-style="italic">η</text>
<text transform="translate(1705.77 687.20) scale(0.8898 1.070)" font-size="46">)</text>
<text transform="translate(1737.28 686.00) scale(1.0748 1.000)" font-size="46">and</text>
<text transform="translate(1823.25 686.00) scale(1.0207 1.000)" font-size="46" font-style="italic">θ</text>
<text transform="translate(1848.55 687.20) scale(0.9237 1.070)" font-size="46">(</text>
<text transform="translate(1863.37 686.00) scale(1.1451 1.000)" font-size="46" font-style="italic">η</text>
<text transform="translate(1889.41 687.20) scale(0.9237 1.070)" font-size="46">)</text>
</g>
</svg>
</body></html>
